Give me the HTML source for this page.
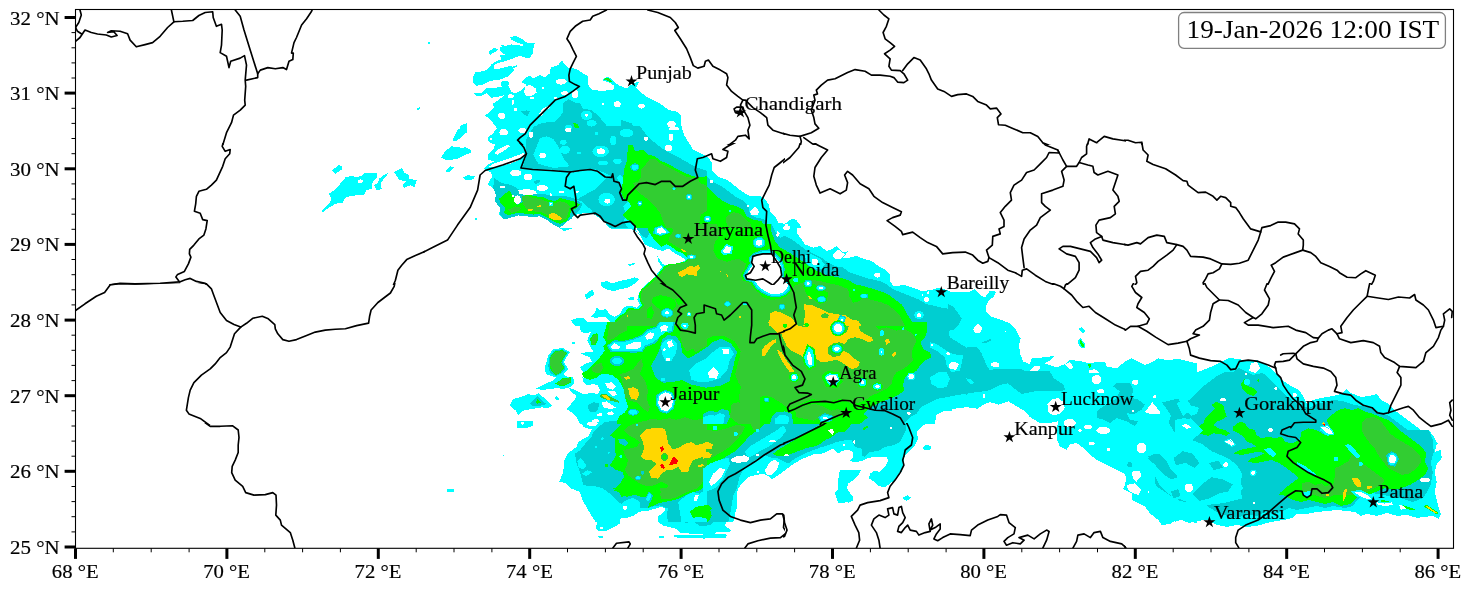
<!DOCTYPE html><html><head><meta charset="utf-8"><title>Radar map</title><style>html,body{margin:0;padding:0;background:#fff;width:1471px;height:591px;overflow:hidden}</style></head><body><svg width="1471" height="591" viewBox="0 0 1471 591" style="position:absolute;left:0;top:0">
<defs><clipPath id="c60_0"><rect x="-1" y="-1" width="426" height="146"/></clipPath><clipPath id="c60_140"><rect x="-1" y="143" width="426" height="142"/></clipPath><clipPath id="c60_280"><rect x="-1" y="283" width="426" height="142"/></clipPath><clipPath id="c60_420"><rect x="-1" y="423" width="426" height="178"/></clipPath><clipPath id="c420_0"><rect x="423" y="-1" width="362" height="146"/></clipPath><clipPath id="c420_140"><rect x="423" y="143" width="362" height="142"/></clipPath><clipPath id="c420_280"><rect x="423" y="283" width="362" height="142"/></clipPath><clipPath id="c420_420"><rect x="423" y="423" width="362" height="178"/></clipPath><clipPath id="c780_0"><rect x="783" y="-1" width="343" height="146"/></clipPath><clipPath id="c780_140"><rect x="783" y="143" width="343" height="142"/></clipPath><clipPath id="c780_280"><rect x="783" y="283" width="343" height="142"/></clipPath><clipPath id="c780_420"><rect x="783" y="423" width="343" height="178"/></clipPath><clipPath id="c1103_0"><rect x="1124" y="-1" width="348" height="146"/></clipPath><clipPath id="c1103_140"><rect x="1124" y="143" width="348" height="142"/></clipPath><clipPath id="c1103_280"><rect x="1124" y="283" width="348" height="146"/></clipPath><clipPath id="c1103_420"><rect x="1124" y="426" width="348" height="175"/></clipPath></defs>
<defs><clipPath id="ax"><rect x="75.5" y="9.5" width="1378.0" height="538.8"/></clipPath></defs>
<g clip-path="url(#ax)" shape-rendering="crispEdges"><polygon fill="#00ffff" points="510.0,36.7 516.6,36.3 522.5,39.2 526.6,42.5 535.0,43.0 533.3,46.7 532.0,50.8 533.3,53.3 529.1,58.3 525.0,57.5 524.1,55.0 517.5,56.6 511.6,59.1 503.3,61.6 497.5,63.3 493.3,65.8 495.8,71.6 493.3,75.0 486.6,76.6 481.7,79.1 480.8,85.0 476.7,85.8 473.3,82.5 472.5,78.3 475.0,72.5 485.0,70.8 489.1,67.5 491.6,64.1 495.8,61.6 501.6,59.1 500.0,56.6 497.5,55.8 503.3,55.0 510.0,53.3 513.3,50.8 508.3,50.0 503.3,47.5 500.8,45.0 506.6,45.8 515.0,47.5 520.8,46.7 524.1,45.0 517.5,42.5 511.6,40.0"/><polygon fill="#00ffff" points="488.3,51.7 495.0,47.5 498.3,50.0 494.1,52.5 490.0,55.0"/><polygon fill="#00ffff" points="503.0,70.0 510.0,67.5 517.5,65.0 516.6,67.0 510.0,69.6 503.6,71.6"/><polygon fill="#00ffff" points="460.0,125.8 466.7,123.3 466.7,127.9 460.0,127.9"/><polygon fill="#00ffff" points="473.3,93.3 481.7,93.0 487.5,87.5 493.3,88.3 501.6,86.6 500.8,81.6 508.3,80.8 509.1,84.1 505.8,87.5 508.3,90.8 515.0,93.3 521.6,90.0 526.6,85.0 521.6,82.5 525.8,77.5 530.0,75.8 533.3,78.3 539.9,75.0 544.9,77.5 549.9,73.3 550.8,67.5 558.3,65.0 561.9,60.0 563.3,63.3 568.3,67.5 576.6,69.1 583.3,73.6 587.9,75.8 588.2,85.0 592.4,90.0 601.6,90.8 613.2,90.0 614.1,85.8 610.7,83.3 606.6,81.6 601.6,80.0 608.2,76.6 612.4,80.0 615.7,83.3 619.9,85.8 626.6,88.3 633.2,83.3 639.0,81.6 636.5,87.5 640.7,92.5 646.5,96.6 653.2,100.0 662.4,105.0 668.2,109.9 676.5,111.6 680.7,114.9 681.5,119.9 679.9,129.9 498.3,129.9 493.3,123.3 489.1,118.3 484.7,115.8 490.0,111.6 494.1,107.4 492.5,104.1 498.3,100.0 504.1,95.8 500.0,92.5 493.3,94.1 486.6,93.3 481.7,95.8 476.7,96.6"/><polygon fill="#00ffff" points="498.3,126.3 493.3,133.0 487.5,138.0 489.1,142.2 495.0,144.7 493.3,149.7 487.5,154.6 488.3,159.6 494.1,161.3 486.6,165.5 483.3,168.8 490.8,172.1 492.5,176.3 490.0,179.6 487.5,184.6 493.3,188.0 495.8,194.6 495.0,201.3 500.0,207.9 499.1,214.6 504.1,219.6 510.0,217.9 515.0,215.4 520.0,214.6 526.6,215.4 533.3,216.3 539.9,216.3 546.6,218.8 553.3,223.8 559.9,227.9 706.5,227.9 706.5,156.3 699.8,153.0 693.2,149.7 689.0,143.0 684.0,134.7 681.5,126.3"/><polygon fill="#00ffff" points="460.0,128.0 466.7,128.0 467.5,132.2 463.3,134.7 460.0,135.5"/><polygon fill="#00ffff" points="460.0,148.8 465.0,147.2 470.0,149.7 469.2,153.0 463.3,153.3 460.0,152.2"/><polygon fill="#00ffff" points="463.3,177.1 468.3,175.1 474.7,176.3 474.2,179.3 468.3,180.0 464.2,179.3"/><polygon fill="#00ffff" points="475.0,218.4 476.7,218.4 476.7,220.1 475.0,220.1"/><polygon fill="#00ffff" points="441.3,157.5 445.0,151.3 451.3,146.3 460.1,147.5 470.1,148.8 471.3,152.5 465.1,155.0 457.5,158.8 447.5,160.5"/><polygon fill="#00ffff" points="445.0,171.3 450.0,166.3 453.8,167.5 448.8,172.5"/><polygon fill="#00ffff" points="463.8,177.5 468.8,175.0 473.8,177.0 470.1,180.1 465.1,180.1"/><polygon fill="#00ffff" points="452.5,140.2 457.5,130.2 466.3,123.2 467.1,130.2 461.3,137.7 455.0,141.4"/><polygon fill="#00ffff" points="427.5,42.1 430.0,42.1 430.0,44.1 427.5,44.1"/><polygon fill="#00ffff" points="321.6,211.3 329.1,203.8 331.6,198.8 329.1,193.8 334.1,190.1 339.1,185.1 345.4,177.5 351.6,175.8 356.6,177.5 362.9,175.0 364.1,172.5 376.6,172.5 376.6,177.5 372.9,181.3 371.6,188.8 366.6,190.1 364.1,195.1 352.9,195.6 345.4,197.6 342.9,202.6 335.3,203.8 329.1,207.6 322.8,212.1"/><polygon fill="#00ffff" points="331.6,170.5 339.1,165.0 342.4,166.3 341.6,169.5 335.3,173.8"/><polygon fill="#00ffff" points="374.1,185.1 377.9,182.6 379.1,178.8 385.4,173.8 388.4,173.3 382.9,180.1 380.4,183.8 381.7,188.8 376.6,190.6"/><polygon fill="#00ffff" points="394.2,172.0 401.7,168.0 404.2,172.5 409.2,175.0 409.2,178.8 416.7,180.1 414.2,187.6 410.4,185.1 404.2,188.1 402.9,185.1 406.7,181.3 399.2,180.1"/><polygon fill="#00ffff" points="416.7,108.9 419.7,107.1 419.7,109.1 417.4,110.1"/><polygon fill="#00ffff" points="556.6,225.2 573.3,225.2 571.6,228.5 564.1,231.0 559.9,228.5"/><polygon fill="#00ffff" points="628.2,264.6 634.9,262.6 635.7,264.0 629.9,266.0"/><polygon fill="#00ffff" points="600.7,282.6 606.6,281.0 611.6,283.5 619.9,281.0 628.2,279.3 634.9,277.3 639.9,279.0 634.9,283.5 628.2,287.6 619.9,289.3 613.2,291.3 606.6,289.3 601.6,286.8"/><polygon fill="#00ffff" points="584.9,295.1 589.1,291.0 593.2,290.1 594.1,294.3 589.9,297.6 586.6,299.0"/><polygon fill="#00ffff" points="627.4,298.0 633.2,296.8 634.9,299.3 630.7,300.6"/><polygon fill="#00ffff" points="570.8,320.1 576.6,318.4 583.3,317.6 586.6,320.9 588.2,325.9 574.9,325.9"/><polygon fill="#00ffff" points="609.1,224.3 633.2,224.3 636.5,231.0 641.5,237.7 644.9,244.3 649.9,246.8 656.5,249.3 662.4,251.0 668.2,248.5 674.9,253.5 681.5,256.8 685.7,260.1 674.9,265.1 666.5,266.0 662.4,263.5 659.0,258.5 657.4,256.0 658.2,261.8 662.4,266.8 658.2,272.6 653.2,278.5 648.2,282.6 643.2,287.6 639.0,292.6 637.4,299.3 639.9,304.3 636.5,307.6 631.6,305.9 626.6,305.6 622.4,309.3 619.9,314.3 614.9,316.8 609.9,314.3 605.7,309.3 599.9,310.1 596.6,307.6 594.9,312.6 589.9,317.3 596.6,317.6 604.9,316.8 609.9,320.9 610.7,325.9 706.5,325.9 706.5,224.3 643.2,224.3 639.9,234.3 634.9,230.2 626.6,228.5 616.6,229.3 610.7,228.5"/><polygon fill="#00ffff" points="544.9,367.3 548.3,355.6 553.3,349.0 563.3,348.2 569.9,352.3 566.6,357.3 564.1,362.3 568.3,369.0 563.3,374.0 566.6,376.5 573.3,377.3 574.1,383.1 569.9,387.3 563.3,389.0 556.6,388.1 549.9,389.0 543.3,389.8 535.0,389.0 539.9,386.5 546.6,383.1 553.3,380.6 555.8,377.3 549.9,375.6 545.8,374.0"/><polygon fill="#00ffff" points="579.1,322.3 607.4,322.3 604.9,330.7 603.2,337.3 606.6,342.3 603.2,346.5 604.9,350.6 601.6,354.8 598.2,359.8 593.2,364.8 588.2,369.8 583.3,372.3 579.9,367.3 584.9,364.0 591.6,361.5 589.9,357.3 583.3,354.8 579.9,353.1 586.6,352.3 593.2,351.5 589.9,345.7 587.4,340.7 589.1,335.7 591.6,331.5 586.6,333.2 581.6,332.3 579.9,329.0"/><polygon fill="#00ffff" points="510.0,404.8 513.3,399.0 520.0,397.3 528.3,394.0 535.0,395.6 538.3,393.1 543.3,397.3 548.3,402.3 552.4,405.6 548.3,408.1 541.6,407.3 533.3,408.9 526.6,409.8 521.6,411.4 518.3,415.6 515.8,410.6 511.6,407.3"/><polygon fill="#00ffff" points="554.1,398.1 556.6,396.0 559.6,398.6 556.9,400.9"/><polygon fill="#00ffff" points="571.9,342.0 574.6,342.0 574.6,344.3 571.9,344.3"/><polygon fill="#00ffff" points="568.3,387.3 576.6,390.6 583.3,394.0 591.6,393.1 598.2,394.0 599.9,390.6 598.2,385.6 593.2,384.0 586.6,385.6 583.3,382.3 582.4,377.3 589.9,379.8 596.6,377.6 601.6,374.0 606.6,374.0 613.2,375.6 618.2,379.8 621.6,384.8 624.1,390.6 624.9,397.3 626.6,402.3 628.2,407.3 624.9,412.3 619.9,415.6 617.4,419.8 616.6,423.9 579.9,423.9 576.6,417.3 571.6,412.3 566.6,408.9 569.9,405.6 574.9,399.0 576.6,395.6 571.6,392.3"/><polygon fill="#00ffff" points="579.9,420.3 583.3,427.0 591.6,429.5 588.2,436.2 583.3,438.7 578.3,442.0 576.6,447.0 568.3,452.8 564.1,461.1 563.3,472.0 559.1,482.0 564.9,482.8 571.6,488.6 579.9,492.0 582.4,500.3 588.2,508.6 593.2,515.3 594.9,521.9 706.5,521.9 706.5,420.3"/><polygon fill="#00ffff" points="516.6,421.2 533.3,421.2 532.5,426.2 526.6,427.8 516.6,428.3"/><polygon fill="#00ffff" points="503.0,454.6 504.3,454.6 504.3,456.0 503.0,456.0"/><polygon fill="#00ffff" points="574.9,488.3 581.6,493.3 583.3,501.7 588.2,510.0 593.2,518.3 597.4,523.3 595.7,527.5 598.2,530.8 604.9,531.3 609.9,529.1 614.9,526.6 619.9,523.3 620.7,517.5 624.9,518.3 633.2,515.8 639.9,511.7 648.2,510.8 656.5,508.3 661.5,506.7 665.7,509.2 662.4,513.3 657.4,516.6 658.2,521.6 663.2,525.8 671.5,527.5 676.5,529.1 679.9,532.5 689.8,533.6 706.5,533.6 706.5,488.3"/><polygon fill="#00ffff" points="673.2,535.0 684.9,534.6 706.5,535.0 706.5,538.3 681.5,538.3 674.9,537.0"/><polygon fill="#00ffff" points="597.4,535.8 603.2,535.8 602.4,538.0 599.1,538.0"/><polygon fill="#00ffff" points="659.0,535.8 664.0,535.8 664.0,537.5 659.0,537.5"/><polygon fill="#00ffff" points="703.3,154.6 707.5,157.1 711.7,162.1 712.5,171.3 718.3,177.1 726.7,179.6 733.3,184.6 741.6,191.3 750.0,196.3 760.0,195.5 765.0,199.6 769.1,204.6 770.0,211.3 775.0,216.3 778.3,222.9 784.9,223.8 791.6,218.8 795.8,219.6 800.8,225.9 801.6,227.9 703.3,227.9"/><polygon fill="#00ffff" points="797.4,224.3 796.6,232.7 801.6,239.3 804.9,244.3 813.3,247.7 819.9,246.0 826.6,251.0 831.6,249.3 836.6,246.0 843.2,252.6 848.2,251.0 843.2,257.6 849.9,257.6 856.6,256.0 864.9,259.3 871.6,261.0 878.2,266.0 884.9,269.3 889.9,274.3 889.9,281.0 893.2,286.0 904.9,285.1 914.9,288.5 921.5,291.0 931.5,290.1 938.2,287.6 950.0,291.0 951.5,325.9 703.3,325.9 703.3,224.3"/><polygon fill="#00ffff" points="703.3,322.3 951.5,322.3 951.5,410.6 943.2,411.4 936.5,414.8 934.8,423.9 703.3,423.9"/><polygon fill="#00ffff" points="703.3,420.3 931.5,420.3 923.2,425.3 916.5,432.0 918.2,438.7 914.9,445.3 909.9,450.3 904.9,455.3 903.2,463.6 901.5,472.0 896.5,478.6 889.9,483.6 884.9,487.0 878.2,486.1 874.9,482.0 869.1,478.6 869.9,473.6 874.9,470.3 879.9,472.0 884.9,467.0 888.2,460.3 886.5,457.0 874.9,457.0 868.2,457.8 861.6,461.1 854.9,462.0 849.9,461.1 853.2,457.0 853.2,452.0 848.2,449.5 841.6,451.1 838.2,453.6 833.2,448.6 828.3,451.1 821.6,453.6 813.3,454.5 804.9,457.8 798.3,461.1 791.6,465.3 784.9,470.3 778.3,475.3 771.6,479.5 770.0,477.0 763.3,473.6 755.0,475.3 748.3,477.0 741.6,483.6 738.3,488.6 735.8,495.3 736.6,505.3 735.0,515.3 733.3,521.9 703.3,521.9"/><polygon fill="#00ffff" points="839.9,470.3 848.2,469.5 861.6,469.5 858.2,475.3 853.2,480.3 848.2,483.6 846.6,488.6 851.6,495.3 853.2,500.3 848.2,502.8 843.2,500.3 838.2,501.9 834.9,493.6 838.2,488.6 838.2,480.3 839.1,473.6"/><polygon fill="#00ffff" points="922.4,447.8 926.5,444.5 931.5,447.0 929.9,450.3 924.9,450.3"/><polygon fill="#00ffff" points="903.2,498.6 907.4,495.3 910.7,497.8 906.5,501.1"/><polygon fill="#00ffff" points="703.3,488.3 737.5,488.3 736.6,496.7 737.5,505.0 735.8,511.7 733.3,518.3 726.7,520.0 725.0,525.8 730.8,530.0 730.0,532.0 716.7,531.6 715.0,533.6 726.7,534.6 726.3,537.5 710.0,538.3 703.3,538.6"/><polygon fill="#00ffff" points="834.9,492.5 838.2,489.2 848.2,489.2 849.1,493.3 853.2,496.7 851.6,500.8 844.9,502.5 838.2,502.5 836.6,498.3"/><polygon fill="#00ffff" points="903.2,497.5 907.4,495.0 910.7,497.5 906.5,500.3"/><polygon fill="#00ffff" points="948.3,292.5 958.3,291.7 968.3,292.5 975.0,289.2 980.0,295.0 985.0,297.5 990.0,290.8 995.8,291.7 994.1,296.7 989.1,300.0 985.8,305.8 985.8,311.6 991.6,316.6 1001.6,320.0 1010.0,323.3 1015.0,328.3 1018.3,335.0 1020.8,338.3 1019.1,345.0 1020.0,353.3 1023.3,361.6 1029.9,364.1 1031.6,358.3 1043.3,357.4 1054.9,355.8 1049.9,360.8 1044.9,363.3 1056.6,367.4 1064.9,364.1 1069.9,359.9 1083.2,361.6 1088.2,363.3 1094.9,362.4 1104.9,361.6 1106.6,366.6 1116.6,368.3 1124.9,361.6 1131.5,358.3 1138.2,361.6 1144.9,364.9 1149.9,363.3 1158.2,358.3 1166.5,359.9 1179.8,359.1 1189.8,361.6 1196.5,363.3 1196.5,374.9 948.3,374.9"/><polygon fill="#00ffff" points="1079.1,328.3 1081.6,327.0 1085.2,330.8 1083.2,333.0 1079.9,330.8"/><polygon fill="#00ffff" points="1077.9,340.0 1080.7,338.0 1083.2,341.6 1085.7,345.0 1084.1,348.6 1080.7,347.5 1078.2,343.6"/><polygon fill="#00ffff" points="948.3,371.3 1196.5,371.3 1196.5,472.9 1123.2,472.9 1116.6,469.6 1109.9,466.3 1103.2,462.9 1096.6,459.6 1089.9,454.6 1083.2,448.0 1076.6,443.0 1069.9,444.6 1066.6,449.6 1059.9,446.3 1056.6,439.6 1056.6,429.6 1058.3,421.3 1049.9,423.0 1039.9,423.0 1029.9,417.1 1025.0,411.3 1016.6,406.3 1008.3,401.3 998.3,404.6 990.0,402.1 983.3,404.6 977.5,408.8 966.7,407.1 960.0,408.0 948.3,409.6"/><polygon fill="#00ffff" points="1099.9,458.3 1106.6,465.0 1116.6,467.5 1123.2,471.7 1126.5,478.3 1124.9,485.0 1123.2,489.1 1131.5,493.3 1131.5,500.0 1138.2,503.3 1144.9,506.6 1149.9,513.3 1158.2,520.0 1161.5,525.0 1169.9,524.1 1176.5,520.0 1179.8,515.0 1186.5,520.0 1196.5,523.3 1196.5,458.3"/><polygon fill="#00ffff" points="1175.0,359.0 1183.0,360.0 1189.0,362.0 1193.0,368.0 1197.0,372.0 1203.0,370.0 1213.0,366.0 1221.0,362.0 1229.0,358.0 1239.0,359.0 1247.0,361.0 1257.0,360.0 1264.9,364.0 1272.9,370.0 1278.9,376.0 1284.9,382.0 1290.9,386.0 1298.9,390.0 1302.9,396.0 1306.9,404.0 1312.9,400.0 1320.9,398.0 1332.9,396.0 1340.9,394.0 1346.9,389.0 1350.9,393.0 1360.9,397.0 1368.9,396.0 1376.9,394.0 1380.9,400.0 1388.9,404.0 1396.9,411.9 1404.9,417.9 1412.9,423.9 1420.9,429.9 1428.8,435.9 1436.8,441.9 1438.8,443.9 1175.0,443.9"/><polygon fill="#00ffff" points="1175.0,430.0 1428.8,430.0 1434.8,438.0 1436.8,444.0 1434.8,452.0 1440.8,450.0 1441.8,458.0 1436.8,464.0 1434.8,472.0 1436.8,482.0 1434.8,492.0 1436.8,500.0 1438.8,508.0 1440.8,514.0 1438.8,518.9 1432.8,515.9 1424.9,516.9 1416.9,517.9 1406.9,515.0 1396.9,515.9 1386.9,513.0 1376.9,515.9 1366.9,514.0 1360.9,515.9 1354.9,512.0 1346.9,511.0 1336.9,510.0 1326.9,511.0 1316.9,512.0 1306.9,514.0 1296.9,514.0 1292.9,517.9 1284.9,519.9 1276.9,520.9 1266.9,522.9 1257.0,525.9 1247.0,526.9 1237.0,524.9 1227.0,526.9 1217.0,524.9 1207.0,519.9 1197.0,520.9 1189.0,522.9 1181.0,519.9 1175.0,521.9"/><polygon fill="#00ffff" points="447.0,489.0 454.0,489.0 454.0,491.5 447.0,491.5"/><polygon fill="#00ffff" points="499.8,47.4 511.4,44.4 523.6,45.9 534.2,42.8 532.7,53.5 526.6,58.1 517.5,55.0 508.3,56.6 500.7,52.0"/><polygon fill="#00ffff" points="474.2,74.8 485.5,70.3 499.2,68.7 511.4,65.7 514.4,70.3 508.3,76.4 500.7,79.4 490.1,80.9 480.9,85.5 474.8,82.4"/><polygon fill="#00ffff" points="485.5,91.6 496.1,88.5 508.3,85.5 511.4,91.6 502.2,96.1 491.6,97.7"/><polygon fill="#00ced1" points="563.3,103.3 568.3,99.1 574.9,102.5 579.9,103.3 583.3,109.1 591.6,109.9 598.2,115.8 604.9,123.3 609.1,129.9 534.1,129.9 538.3,124.1 546.6,122.4 554.9,121.6 559.9,116.6 563.3,111.6"/><polygon fill="#00ced1" points="520.8,111.6 526.6,110.3 530.0,111.6 527.5,115.8 524.1,114.9"/><polygon fill="#00ced1" points="620.7,119.9 626.6,121.6 631.6,123.3 636.5,129.9 620.7,129.9"/><polygon fill="#00ced1" points="534.1,126.3 639.9,126.3 644.9,133.0 653.2,141.3 661.5,148.0 669.9,153.0 679.9,158.0 689.8,163.8 698.2,168.0 706.5,170.5 706.5,179.6 626.6,179.6 619.9,174.6 616.6,178.0 609.9,175.5 604.9,173.0 596.6,169.6 588.2,168.8 579.9,171.3 573.3,172.6 566.6,171.6 553.3,169.6 538.3,168.8 521.6,168.8 525.0,161.3 526.6,154.6 525.8,144.7 526.6,138.0"/><polygon fill="#00ced1" points="609.9,175.5 616.6,178.0 619.9,183.0 620.7,191.3 624.1,199.6 628.2,201.3 623.2,206.3 624.9,211.3 626.6,216.3 623.2,221.3 628.2,227.9 609.9,227.9 604.9,222.1 599.9,217.9 593.2,213.8 591.6,209.6 586.6,206.3 581.6,201.3 576.6,199.6 582.4,196.3 588.2,193.0 594.9,189.6 601.6,183.0 606.6,178.0"/><polygon fill="#00ced1" points="494.1,178.0 501.6,183.0 510.0,184.6 516.6,188.0 523.3,192.1 530.0,193.0 538.3,193.8 546.6,194.6 553.3,196.3 558.3,195.5 566.6,196.3 574.9,198.8 582.4,203.8 579.9,209.6 574.9,214.6 571.6,219.6 566.6,224.6 559.9,227.9 553.3,224.6 546.6,219.6 539.9,216.3 533.3,217.1 526.6,216.3 518.3,215.4 510.0,217.9 504.1,219.6 500.0,214.6 500.0,207.9 495.0,201.3 495.8,194.6 493.3,188.0"/><polygon fill="#00ced1" points="533.3,182.1 538.3,179.6 540.8,181.3 535.8,184.6"/><polygon fill="#00ced1" points="563.3,225.2 569.9,225.2 568.3,228.0 564.1,228.5"/><polygon fill="#00ced1" points="634.9,224.3 648.2,224.3 649.9,232.7 646.5,238.5 642.4,236.0 638.2,231.0"/><polygon fill="#00ced1" points="548.3,365.6 549.6,356.5 554.1,350.6 562.4,349.3 567.9,352.6 564.9,357.3 562.4,362.3 565.8,368.1 561.6,373.1 556.6,376.0 551.6,374.0 549.1,370.6"/><polygon fill="#00ced1" points="530.0,403.9 534.1,399.0 537.4,395.6 541.6,400.6 546.6,403.9 539.9,405.9 533.3,406.4"/><polygon fill="#00ced1" points="587.4,405.6 593.2,402.3 599.1,403.1 598.2,408.9 594.9,412.3 589.1,411.4"/><polygon fill="#00ced1" points="598.2,427.0 604.9,422.0 619.9,420.3 706.5,420.3 706.5,521.9 668.2,521.9 666.5,515.3 668.2,508.6 659.9,505.3 649.9,506.9 639.9,508.6 639.9,501.9 634.9,498.6 628.2,497.8 621.6,503.6 616.6,500.3 609.9,493.6 603.2,488.6 594.9,486.1 583.3,485.3 581.6,478.6 579.9,472.0 576.6,463.6 574.9,453.6 579.9,450.3 586.6,442.0 591.6,437.0 593.2,432.0"/><polygon fill="#00ced1" points="603.2,488.3 609.9,493.3 616.6,498.3 619.9,503.3 626.6,500.0 633.2,497.5 639.9,501.7 639.9,508.3 648.2,508.3 654.9,505.8 659.9,505.0 668.2,508.3 667.4,515.0 669.9,519.1 676.5,520.0 681.5,516.6 683.2,523.3 693.2,521.6 699.8,525.8 706.5,525.8 706.5,488.3"/><polygon fill="#00ced1" points="703.3,173.0 708.3,178.0 715.0,183.0 721.7,186.3 728.3,191.3 735.0,196.3 741.6,199.6 748.3,206.3 750.0,214.6 756.6,217.9 763.3,218.8 766.6,221.3 766.6,227.9 703.3,227.9"/><polygon fill="#00ced1" points="771.6,224.3 775.0,231.0 780.0,237.7 784.9,236.0 791.6,239.3 798.3,244.3 804.9,249.3 813.3,253.5 821.6,257.6 828.3,262.6 834.9,266.0 843.2,267.6 849.9,272.6 858.2,275.1 864.9,277.6 871.6,279.3 879.9,281.0 886.5,284.3 893.2,289.3 901.5,292.6 909.9,296.0 918.2,299.3 926.5,304.3 934.8,305.9 941.5,307.6 951.5,309.3 951.5,325.9 703.3,325.9 703.3,224.3"/><polygon fill="#00ced1" points="927.4,322.3 946.6,322.3 949.9,337.3 963.2,345.7 974.9,352.3 984.9,362.3 989.9,370.6 1003.2,369.0 1021.5,369.0 1036.5,377.3 1063.2,385.6 1063.2,390.6 1038.2,390.6 1021.5,394.0 1006.5,382.3 988.2,390.6 963.2,394.0 936.6,399.0 920.8,407.3 916.6,413.9 909.9,417.3 903.3,423.9 846.7,423.9 846.7,374.0 880.0,324.0"/><polygon fill="#00ced1" points="703.3,420.3 904.9,420.3 906.5,428.7 903.2,435.3 899.9,442.0 893.2,445.3 884.9,447.0 878.2,451.1 869.9,452.0 864.9,457.0 861.6,455.3 861.6,448.6 854.9,447.0 851.6,440.3 844.9,440.3 836.6,442.0 828.3,445.3 821.6,447.0 814.9,449.5 808.3,452.0 801.6,455.3 794.9,458.6 788.3,463.6 784.9,462.0 778.3,458.6 771.6,457.8 765.0,455.3 758.3,457.8 753.3,461.1 748.3,465.3 743.3,470.3 740.0,475.3 738.3,482.0 736.6,488.6 733.3,495.3 731.6,505.3 730.0,515.3 728.3,521.9 703.3,521.9"/><polygon fill="#00ced1" points="703.3,488.3 730.0,488.3 729.2,496.7 730.0,505.0 726.7,511.7 721.7,516.6 715.0,520.0 710.0,525.0 703.3,525.8"/><polygon fill="#00ced1" points="948.3,304.1 953.3,306.6 958.3,313.3 961.7,318.3 958.3,325.0 953.3,330.0 948.3,330.8"/><polygon fill="#00ced1" points="948.3,341.6 956.7,346.6 963.3,350.0 968.3,346.6 976.6,346.6 981.6,353.3 985.0,361.6 981.6,368.3 986.6,369.9 1000.0,369.1 1013.3,369.9 1021.6,370.8 1023.3,374.9 948.3,374.9"/><polygon fill="#00ced1" points="981.6,342.5 990.0,339.1 992.5,340.0 985.8,343.3"/><polygon fill="#00ced1" points="948.3,376.3 966.7,373.0 991.6,371.3 1049.9,371.3 1053.3,378.0 1063.3,384.7 1064.9,389.7 1058.3,391.3 1049.9,388.0 1043.3,384.7 1036.6,383.0 1029.9,386.3 1023.3,389.7 1016.6,388.0 1010.0,383.0 1000.0,384.7 991.6,383.0 983.3,389.7 975.0,388.0 966.7,394.7 960.0,391.3 953.3,388.0 948.3,389.7"/><polygon fill="#00ced1" points="1096.6,411.3 1103.2,406.3 1109.9,403.0 1116.6,398.0 1119.9,391.3 1113.2,386.3 1116.6,383.0 1129.9,383.0 1133.2,389.7 1131.5,398.0 1138.2,399.6 1144.9,404.6 1141.5,409.6 1133.2,414.6 1126.5,413.0 1129.9,419.6 1138.2,421.3 1134.9,426.3 1126.5,421.3 1116.6,418.0 1109.9,423.0 1103.2,419.6 1096.6,418.0"/><polygon fill="#00ced1" points="1164.9,423.0 1173.2,416.3 1183.2,411.3 1189.8,406.3 1196.5,403.0 1196.5,443.0 1189.8,439.6 1183.2,436.3 1176.5,438.0 1171.5,431.3 1166.5,429.6"/><polygon fill="#00ced1" points="1148.2,456.3 1158.2,452.9 1166.5,456.3 1174.9,454.6 1183.2,451.3 1196.5,448.0 1196.5,472.9 1158.2,472.9 1154.9,464.6"/><polygon fill="#00ced1" points="1148.2,458.3 1154.9,465.0 1161.5,471.7 1166.5,478.3 1173.2,476.7 1179.8,481.7 1186.5,476.7 1189.8,470.0 1196.5,466.7 1196.5,458.3"/><polygon fill="#00ced1" points="1158.2,460.0 1166.5,458.3 1196.5,458.3 1196.5,501.6 1186.5,498.3 1179.8,493.3 1171.5,490.0 1164.9,481.7 1159.9,473.3"/><polygon fill="#00ced1" points="1159.9,485.0 1163.2,481.7 1164.0,488.3 1160.7,488.3"/><polygon fill="#00ced1" points="1172.4,493.3 1178.2,488.3 1182.3,494.1 1178.2,499.1"/><polygon fill="#00ced1" points="1191.5,495.0 1196.5,491.6 1196.5,501.6"/><polygon fill="#00ced1" points="1175.0,407.9 1181.0,404.0 1189.0,400.0 1195.0,394.0 1201.0,388.0 1209.0,382.0 1217.0,376.0 1225.0,372.0 1233.0,372.0 1239.0,368.0 1245.0,371.0 1253.0,375.0 1262.9,373.0 1268.9,378.0 1274.9,384.0 1280.9,390.0 1286.9,396.0 1292.9,401.0 1300.9,406.0 1308.9,407.9 1316.9,404.0 1324.9,402.0 1332.9,400.0 1342.9,401.0 1350.9,404.0 1360.9,406.0 1370.9,407.9 1378.9,411.9 1388.9,415.9 1396.9,421.9 1404.9,427.9 1412.9,433.9 1420.9,439.9 1424.9,443.9 1175.0,443.9"/><polygon fill="#00ced1" points="1175.0,444.0 1185.0,440.0 1197.0,438.0 1207.0,434.0 1217.0,430.0 1428.8,430.0 1432.8,440.0 1433.8,452.0 1430.8,462.0 1432.8,472.0 1430.8,484.0 1426.9,492.0 1422.9,498.0 1412.9,502.0 1400.9,498.0 1388.9,496.0 1376.9,494.0 1368.9,492.0 1356.9,500.0 1352.9,506.0 1344.9,508.0 1332.9,506.0 1324.9,508.0 1316.9,506.0 1306.9,508.0 1296.9,510.0 1288.9,508.0 1280.9,512.0 1272.9,514.0 1264.9,512.0 1257.0,515.9 1247.0,514.0 1237.0,517.9 1227.0,515.9 1217.0,512.0 1207.0,506.0 1201.0,500.0 1193.0,498.0 1185.0,502.0 1177.0,500.0 1175.0,500.0"/><polygon fill="#00ced1" points="1160.7,403.4 1178.2,398.4 1188.2,415.9 1185.7,440.9 1170.7,445.9 1160.7,425.9"/><polygon fill="#00ced1" points="1153.2,460.9 1170.7,453.4 1185.7,460.9 1188.2,485.9 1170.7,495.9 1155.7,485.9"/><polygon fill="#00ff00" points="573.3,123.3 577.4,123.6 579.9,128.3 574.9,128.3"/><polygon fill="#00ff00" points="602.4,79.1 608.2,77.5 612.4,81.6 609.9,82.5 606.6,80.0"/><polygon fill="#00ff00" points="628.2,144.7 633.2,145.5 634.9,151.3 643.2,149.7 648.2,154.6 654.9,156.3 659.9,160.5 668.2,163.8 676.5,168.8 684.9,173.0 693.2,176.3 699.8,177.1 706.5,176.3 706.5,227.9 636.5,227.9 631.6,222.9 626.6,218.8 622.4,214.6 626.6,211.3 631.6,206.3 628.2,201.3 624.1,199.6 620.7,191.3 622.4,184.6 623.2,178.0 624.1,169.6 626.6,161.3 627.4,153.0"/><polygon fill="#00ff00" points="499.1,198.8 505.0,193.8 510.0,190.5 511.6,194.6 515.0,198.0 517.5,204.6 523.3,202.1 521.6,196.3 528.3,194.6 535.0,196.3 543.3,197.1 548.3,199.6 554.9,201.3 559.9,198.0 566.6,199.6 573.3,201.3 579.9,204.6 576.6,207.9 570.8,211.3 569.9,216.3 566.6,221.3 559.9,223.8 553.3,221.3 546.6,217.1 539.9,213.8 533.3,214.6 526.6,213.8 520.0,212.9 513.3,213.8 508.3,215.4 504.1,212.9 505.0,207.9 500.8,203.8"/><polygon fill="#00ff00" points="646.5,224.3 648.2,231.0 651.5,236.0 654.9,241.0 658.2,243.5 661.5,246.8 666.5,244.3 671.5,246.8 676.5,251.0 683.2,253.5 688.2,258.5 684.9,261.8 676.5,263.5 668.2,264.3 664.0,266.8 659.9,271.8 656.5,276.0 651.5,280.1 646.5,285.1 641.5,289.3 639.0,294.3 639.9,301.0 642.4,305.1 638.2,309.3 633.2,308.4 628.2,307.6 624.9,312.6 619.9,315.9 615.7,319.3 613.2,325.9 706.5,325.9 706.5,224.3"/><polygon fill="#00ff00" points="549.6,364.8 550.3,357.0 554.6,351.6 561.9,350.1 566.9,353.0 564.1,357.3 561.1,362.3 564.4,367.6 560.6,372.6 556.1,375.3 552.1,371.5 549.9,368.1"/><polygon fill="#00ff00" points="555.3,383.6 562.9,378.1 570.6,377.3 571.6,382.0 565.3,385.6 559.6,385.6"/><polygon fill="#00ff00" points="589.9,339.0 593.2,334.0 597.4,333.2 598.2,339.0 595.7,344.8 591.6,345.7"/><polygon fill="#00ff00" points="535.8,401.4 537.9,399.0 541.6,403.1 536.6,403.6"/><polygon fill="#00ff00" points="607.4,322.3 604.9,330.7 603.2,337.3 606.6,342.3 603.2,346.5 604.9,350.6 601.6,354.8 598.2,359.8 593.2,364.8 588.2,369.8 581.6,373.1 583.3,377.3 589.9,379.8 596.6,377.6 601.6,374.0 606.6,374.0 613.2,375.6 618.2,379.8 621.6,384.8 624.1,390.6 624.9,397.3 626.6,402.3 628.2,407.3 624.9,412.3 619.9,415.6 617.4,419.8 616.6,423.9 706.5,423.9 706.5,322.3"/><polygon fill="#00ff00" points="609.9,435.3 614.9,430.3 619.9,425.3 626.6,420.3 706.5,420.3 706.5,485.3 699.8,490.3 691.5,492.8 681.5,496.1 674.9,500.3 668.2,500.3 659.9,499.4 653.2,505.3 648.2,507.8 649.9,500.3 643.2,495.3 636.5,493.6 629.9,493.6 621.6,497.0 618.2,491.1 613.2,491.1 619.9,483.6 624.1,477.0 622.4,472.0 614.9,469.5 609.9,465.3 613.2,460.3 615.7,455.3 614.9,447.0 614.9,438.7"/><polygon fill="#00ff00" points="604.9,464.0 607.9,464.0 607.9,467.0 604.9,467.0"/><polygon fill="#00ff00" points="613.2,488.3 619.9,493.3 626.6,496.7 634.9,495.0 643.2,497.5 648.2,495.0 649.9,501.7 653.2,505.8 658.2,503.3 666.5,501.7 674.9,500.0 681.5,497.5 689.8,493.3 696.5,488.3"/><polygon fill="#00ff00" points="703.3,183.0 710.0,189.6 716.7,196.3 723.3,201.3 730.0,204.6 736.6,206.3 743.3,209.6 746.6,216.3 753.3,219.6 761.6,221.3 765.0,227.9 703.3,227.9"/><polygon fill="#00ff00" points="770.8,224.3 771.6,232.7 775.0,241.0 780.0,247.7 786.6,251.0 793.3,255.1 799.9,259.3 806.6,264.3 813.3,269.3 821.6,272.6 828.3,276.0 836.6,276.8 843.2,278.5 849.9,281.0 854.9,284.3 863.2,286.0 871.6,288.5 879.9,291.0 888.2,294.3 894.9,299.3 901.5,304.3 904.9,309.3 908.2,315.9 911.5,320.9 914.9,325.9 703.3,325.9 703.3,224.3"/><polygon fill="#00ff00" points="703.3,322.3 926.5,322.3 927.4,330.7 924.9,337.3 920.7,342.3 923.2,349.0 929.9,352.3 931.5,357.3 924.9,360.6 919.9,365.6 916.5,370.6 911.5,374.0 904.9,377.3 903.2,384.0 904.0,390.6 899.9,394.0 893.2,397.3 884.9,400.6 876.6,403.9 868.2,408.9 863.2,413.9 868.2,417.3 859.9,423.9 703.3,423.9"/><polygon fill="#00ff00" points="703.3,420.3 768.3,420.3 761.6,427.0 755.0,432.0 748.3,437.0 743.3,443.7 736.6,450.3 728.3,455.3 720.0,460.3 711.7,465.3 703.3,468.6"/><polygon fill="#00ff00" points="773.3,453.6 780.0,448.6 788.3,443.7 796.6,438.7 804.9,433.7 813.3,428.7 821.6,423.7 824.9,420.3 851.6,420.3 849.9,427.0 844.9,432.0 838.2,432.0 831.6,437.0 824.9,440.3 818.3,445.3 811.6,447.0 804.9,448.6 798.3,451.1 791.6,453.6 783.3,456.1 776.6,456.1"/><polygon fill="#00ff00" points="862.4,428.7 867.4,425.3 868.2,427.0 864.1,430.3"/><polygon fill="#00ff00" points="703.3,505.3 710.0,508.6 711.7,515.3 708.3,521.9 703.3,521.9"/><polygon fill="#00ff00" points="703.3,503.3 708.3,505.0 712.5,508.3 708.3,512.5 703.3,513.3"/><polygon fill="#00ff00" points="1079.9,339.1 1081.6,341.6 1084.1,345.0 1083.2,347.5 1080.7,345.0"/><polygon fill="#00ff00" points="1087.9,364.9 1089.9,363.6 1091.6,365.8 1089.6,367.9"/><polygon fill="#00ff00" points="1241.0,384.0 1245.0,378.0 1247.0,386.0 1253.0,388.0 1257.0,392.0 1253.0,396.0 1247.0,394.0 1243.0,390.0"/><polygon fill="#00ff00" points="1257.0,381.0 1259.4,378.0 1259.0,383.0"/><polygon fill="#00ff00" points="1195.0,428.3 1203.3,423.3 1205.0,418.3 1210.0,413.3 1215.0,408.3 1211.6,405.0 1216.6,401.7 1223.3,405.0 1225.0,411.7 1226.6,416.7 1221.6,420.0 1216.6,421.6 1213.3,425.0 1218.3,428.3 1225.0,430.0 1230.0,433.3 1226.6,435.8 1220.0,434.1 1213.3,433.3 1208.3,435.8 1201.7,434.1 1196.7,432.5"/><polygon fill="#00ff00" points="1233.3,426.6 1240.0,421.6 1245.0,423.3 1248.3,428.3 1255.0,430.0 1256.6,435.0 1261.6,438.3 1268.3,436.6 1274.9,438.3 1281.6,436.6 1284.9,441.6 1291.6,443.3 1299.9,440.0 1301.6,431.6 1308.3,428.3 1316.6,430.0 1324.9,435.0 1331.6,433.3 1329.9,426.6 1326.6,420.0 1331.6,415.0 1338.2,410.0 1344.9,408.3 1351.6,410.0 1358.2,408.3 1364.9,411.7 1371.5,413.3 1379.9,416.7 1388.2,420.0 1394.9,425.0 1401.5,431.6 1408.2,436.6 1414.8,441.6 1421.5,446.6 1426.5,453.3 1424.8,461.6 1428.2,468.3 1424.8,474.9 1418.2,479.9 1409.9,484.9 1401.5,488.3 1393.2,489.9 1384.9,488.3 1376.5,491.6 1368.2,494.9 1278.3,494.9 1284.9,488.3 1291.6,483.3 1298.3,478.3 1293.3,473.3 1286.6,468.3 1279.9,463.3 1271.6,460.0 1263.3,461.6 1255.0,463.3 1248.3,461.6 1251.6,458.3 1258.3,456.6 1264.9,453.3 1258.3,451.6 1250.0,453.3 1241.6,455.0 1233.3,453.3 1240.0,450.0 1248.3,448.3 1256.6,446.6 1251.6,443.3 1246.6,441.6 1243.3,436.6 1238.3,433.3 1233.3,430.8"/><polygon fill="#00ff00" points="1278.9,492.0 1284.9,496.0 1292.9,500.0 1300.9,502.0 1308.9,500.0 1316.9,502.0 1324.9,504.0 1332.9,502.0 1340.9,506.0 1350.9,504.0 1356.9,498.0 1352.9,492.0 1316.9,488.0"/><polygon fill="#32cd32" points="604.6,79.5 608.2,78.6 610.7,81.3 607.4,80.5"/><polygon fill="#32cd32" points="644.9,165.5 649.9,158.8 656.5,159.6 659.9,163.0 668.2,167.1 676.5,171.3 684.9,176.3 693.2,178.0 697.3,177.1 699.8,183.0 706.5,185.5 706.5,211.3 700.7,214.6 699.8,221.3 696.5,227.9 666.5,227.9 663.2,221.3 659.9,212.9 654.9,206.3 648.2,199.6 641.5,194.6 636.5,189.6 633.2,183.0 638.2,181.3 641.5,176.3 640.7,169.6"/><polygon fill="#32cd32" points="521.6,196.3 526.6,195.5 533.3,198.0 539.9,198.8 546.6,201.3 553.3,203.8 559.9,201.3 566.6,203.0 569.9,206.3 568.3,212.9 566.6,217.9 561.6,221.3 554.9,219.6 548.3,215.4 541.6,212.1 533.3,211.3 526.6,209.6 523.3,204.6"/><polygon fill="#32cd32" points="508.3,209.6 515.0,206.3 521.6,207.9 518.3,211.3 511.6,212.9"/><polygon fill="#32cd32" points="670.7,224.3 673.2,231.0 669.9,236.0 668.2,241.0 673.2,244.3 678.2,247.7 684.9,251.0 689.8,257.6 686.5,261.8 678.2,264.0 669.9,265.1 665.7,267.6 661.5,272.6 658.2,276.8 653.2,281.0 648.2,286.0 643.2,290.1 640.7,295.1 641.5,301.0 644.0,305.1 639.9,310.1 634.9,310.1 629.9,309.3 626.6,313.4 621.6,316.8 617.4,320.9 615.7,325.9 706.5,325.9 706.5,224.3"/><polygon fill="#32cd32" points="550.8,357.3 554.9,352.3 561.6,350.6 566.6,353.1 563.3,357.3 559.9,362.3 563.3,367.3 559.9,372.3 555.8,374.8 552.4,370.6 549.9,364.0"/><polygon fill="#32cd32" points="556.6,383.1 563.3,379.0 569.9,378.1 570.8,381.5 564.9,384.8 559.9,384.8"/><polygon fill="#32cd32" points="591.2,339.0 594.1,335.3 596.6,334.8 596.9,339.0 594.9,343.7 592.4,344.3"/><polygon fill="#32cd32" points="591.6,368.1 596.6,364.0 601.6,363.1 603.2,368.1 599.9,373.1 593.2,372.3"/><polygon fill="#32cd32" points="609.9,322.3 628.2,322.3 626.6,330.7 619.9,334.0 613.2,339.0 606.6,340.7 608.2,332.3"/><polygon fill="#32cd32" points="619.9,374.0 626.6,372.3 633.2,369.0 638.2,362.3 641.5,359.0 643.2,365.6 639.9,374.0 644.9,380.6 648.2,390.6 646.5,399.0 649.9,407.3 648.2,412.3 641.5,407.3 636.5,402.3 629.9,400.6 624.9,397.3 624.1,390.6 622.4,382.3"/><polygon fill="#32cd32" points="693.2,334.0 698.2,329.0 706.5,327.3 706.5,354.0 698.2,354.8 693.2,349.0 689.8,340.7"/><polygon fill="#32cd32" points="643.2,423.9 649.9,418.9 659.9,419.8 669.9,418.1 676.5,419.8 684.9,417.3 693.2,419.8 706.5,418.9 706.5,423.9"/><polygon fill="#32cd32" points="599.1,394.8 604.9,393.6 611.6,397.3 618.2,400.6 619.9,403.1 613.2,401.4 606.6,399.8 601.6,398.1"/><polygon fill="#32cd32" points="624.1,430.3 629.9,425.3 639.9,422.0 648.2,420.3 706.5,420.3 706.5,477.0 701.5,483.6 696.5,488.6 689.8,491.1 679.9,495.3 669.9,499.4 661.5,498.6 659.9,493.6 666.5,488.6 668.2,485.3 661.5,482.0 654.9,485.3 646.5,486.1 639.9,483.6 634.9,480.3 628.2,475.3 624.9,470.3 626.6,465.3 628.2,460.3 624.9,455.3 623.2,450.3 629.9,448.6 636.5,447.0 639.9,442.0 634.9,438.7 628.2,435.3"/><polygon fill="#32cd32" points="659.9,488.3 661.5,495.0 668.2,498.3 676.5,497.5 684.9,493.3 689.8,488.3"/><polygon fill="#32cd32" points="726.7,216.3 733.3,212.1 740.0,213.8 745.0,218.8 750.0,222.9 751.6,227.9 728.3,227.9 725.8,221.3"/><polygon fill="#32cd32" points="703.3,224.3 716.7,224.3 720.8,234.3 715.0,241.8 713.3,251.0 717.5,258.5 726.7,261.8 738.3,258.5 745.8,263.5 744.1,274.3 752.5,281.8 755.8,290.1 762.5,296.8 771.6,300.1 781.6,298.5 789.9,293.5 794.1,286.0 799.9,283.5 804.9,281.8 813.3,280.1 821.6,281.3 829.9,283.5 838.2,285.1 846.6,288.5 854.9,293.5 863.2,296.8 871.6,300.1 879.9,301.8 888.2,305.1 894.9,310.1 899.9,315.9 903.2,321.8 904.9,325.9 703.3,325.9"/><polygon fill="#32cd32" points="740.0,322.3 871.6,322.3 878.2,329.0 886.5,327.3 896.5,330.7 904.9,329.0 913.2,334.0 916.5,340.7 913.2,347.3 911.5,354.0 913.2,360.6 908.2,365.6 903.2,369.0 896.5,372.3 893.2,377.3 891.5,384.0 886.5,389.0 879.9,392.3 871.6,395.6 864.9,400.6 854.9,403.9 848.2,402.3 841.6,399.0 831.6,400.6 821.6,400.6 811.6,399.0 804.9,402.3 798.3,405.6 791.6,408.9 786.6,407.3 780.0,402.3 771.6,397.3 763.3,395.6 756.6,399.0 750.0,395.6 743.3,390.6 738.3,382.3 735.0,374.0 736.6,365.6 740.0,357.3 738.3,349.0 735.0,340.7 736.6,332.3"/><polygon fill="#32cd32" points="794.9,408.9 804.9,405.6 814.9,403.9 824.9,407.3 831.6,410.6 838.2,408.9 843.2,412.3 838.2,417.3 831.6,418.9 821.6,417.3 813.3,420.6 804.9,418.9 796.6,417.3"/><polygon fill="#32cd32" points="731.6,403.9 738.3,402.3 746.6,407.3 755.0,410.6 760.0,417.3 755.0,423.9 738.3,423.9 730.0,417.3"/><polygon fill="#32cd32" points="703.3,428.7 715.0,431.2 725.0,428.7 738.3,424.5 745.0,427.0 741.6,433.7 736.6,440.3 730.0,447.0 721.7,452.0 713.3,457.0 705.0,462.0 703.3,462.8"/><polygon fill="#32cd32" points="1361.5,423.3 1366.5,418.3 1373.2,416.7 1379.9,420.0 1384.9,426.6 1389.9,433.3 1396.5,438.3 1404.9,443.3 1413.2,448.3 1419.8,455.0 1421.5,461.6 1416.5,468.3 1409.9,473.3 1401.5,474.9 1394.9,471.6 1388.2,468.3 1383.2,461.6 1378.2,455.0 1374.9,448.3 1369.9,443.3 1364.9,436.6 1361.5,430.0"/><polygon fill="#32cd32" points="1334.9,468.3 1341.6,465.0 1348.2,461.6 1351.6,455.0 1358.2,458.3 1364.9,465.0 1371.5,470.0 1378.2,474.9 1384.9,479.9 1381.5,484.9 1374.9,488.3 1368.2,491.6 1361.5,494.9 1304.9,494.9 1301.6,488.3 1301.6,483.3 1308.3,481.6 1314.9,484.9 1321.6,483.3 1328.2,488.3 1333.2,484.9 1334.9,476.6"/><polygon fill="#32cd32" points="1310.9,492.0 1316.9,488.0 1324.9,486.0 1334.9,484.4 1336.9,490.0 1332.9,496.0 1324.9,498.0 1316.9,496.0"/><polygon fill="#32cd32" points="641.8,290.0 760.0,290.0 760.0,429.7 753.1,429.7 748.4,417.9 741.3,408.4 738.9,396.6 741.3,384.7 738.9,372.9 741.3,361.0 740.1,349.2 734.2,340.9 724.7,336.2 712.9,336.2 703.4,340.9 693.9,348.0 686.8,351.6 682.1,344.5 679.7,335.0 682.1,325.5 676.2,316.0 667.9,306.6 658.4,304.2 648.9,301.8 644.2,297.1"/><polygon fill="#ffd700" points="548.3,214.6 553.3,212.6 558.3,215.4 562.4,218.8 559.9,220.4 553.3,219.6 549.1,217.9"/><polygon fill="#ffd700" points="528.3,209.3 532.5,208.8 532.5,210.4 528.3,210.9"/><polygon fill="#ffd700" points="537.4,205.6 541.3,205.3 541.3,206.6 537.4,206.9"/><polygon fill="#ffd700" points="678.2,272.6 683.2,270.1 689.8,266.0 694.8,266.8 699.0,264.3 699.8,268.5 696.5,271.8 697.3,276.0 691.5,275.1 686.5,274.3 682.4,276.8 679.0,276.0"/><polygon fill="#ffd700" points="681.2,249.3 684.0,249.7 686.2,251.8 683.2,251.8"/><polygon fill="#ffd700" points="626.6,315.3 628.2,315.3 628.2,316.9 626.6,316.9"/><polygon fill="#ffd700" points="628.2,388.1 633.2,387.3 638.2,389.8 639.0,395.6 636.5,399.8 631.6,399.0 629.1,394.0"/><polygon fill="#ffd700" points="624.1,377.3 628.2,376.0 630.7,378.1 626.6,379.8"/><polygon fill="#ffd700" points="601.6,395.3 606.6,394.8 610.7,399.0 609.1,400.6 604.9,398.1"/><polygon fill="#ffd700" points="639.9,435.3 646.5,429.5 654.9,427.8 664.9,428.7 666.5,435.3 668.2,443.7 673.2,449.5 679.9,447.0 684.9,443.7 691.5,442.0 696.5,445.3 705.0,442.8 706.5,455.3 699.8,457.8 693.2,460.3 689.8,466.1 688.2,472.0 681.5,472.0 678.2,467.0 673.2,469.5 666.5,470.3 661.5,473.6 658.2,478.6 651.5,477.8 649.0,472.0 653.2,467.0 656.5,463.6 651.5,460.3 644.9,459.5 640.7,457.0 643.2,452.0 644.0,447.0 642.4,440.3"/><polygon fill="#ffd700" points="697.3,465.6 703.2,464.0 704.0,466.1 698.2,467.3"/><polygon fill="#ffd700" points="770.0,313.4 775.0,310.9 781.6,312.6 788.3,315.9 793.3,319.3 795.8,325.9 769.1,325.9"/><polygon fill="#ffd700" points="804.1,304.3 811.6,305.1 821.6,309.3 828.3,312.6 836.6,314.3 844.9,315.1 851.6,319.3 858.2,320.9 861.6,325.9 803.3,325.9 804.9,315.9"/><polygon fill="#ffd700" points="718.0,270.6 721.7,270.6 721.3,272.3"/><polygon fill="#ffd700" points="726.3,274.3 728.3,275.6 727.7,277.3"/><polygon fill="#ffd700" points="739.1,315.9 741.3,315.9 741.3,317.6 739.1,317.6"/><polygon fill="#ffd700" points="807.9,296.0 811.6,296.8 812.4,299.3 809.1,298.5"/><polygon fill="#ffd700" points="768.3,322.3 794.9,322.3 798.3,325.7 804.9,327.3 811.6,324.0 821.6,322.3 829.9,322.3 831.6,332.3 838.2,335.7 846.6,332.3 849.9,324.0 858.2,322.3 859.9,330.7 864.9,334.0 871.6,337.3 873.2,340.7 868.2,342.3 861.6,339.0 854.9,337.3 848.2,339.0 844.9,344.0 839.9,342.3 833.2,343.2 828.3,347.3 828.3,354.0 833.2,357.3 839.9,355.6 843.2,350.6 849.9,354.0 854.9,359.0 859.9,362.3 858.2,367.3 851.6,369.0 846.6,365.6 841.6,362.3 836.6,359.8 828.3,361.5 821.6,362.3 816.6,359.0 814.9,352.3 813.3,347.3 808.3,345.7 804.9,350.6 803.3,357.3 798.3,354.0 791.6,350.6 786.6,345.7 783.3,339.0 781.6,334.0 776.6,332.3 771.6,327.3"/><polygon fill="#ffd700" points="761.6,350.6 765.0,345.7 771.6,340.7 776.6,339.0 775.8,342.3 771.6,345.7 768.3,350.6 765.0,355.6 761.6,355.6"/><polygon fill="#ffd700" points="776.6,349.0 781.6,352.3 786.6,360.6 791.6,367.3 794.9,372.3 789.9,372.3 784.9,365.6 780.0,357.3"/><polygon fill="#ffd700" points="884.9,340.7 888.2,338.2 889.9,342.3 886.5,344.8"/><polygon fill="#ffd700" points="891.2,354.8 894.9,351.5 896.5,354.0 893.2,356.8"/><polygon fill="#ffd700" points="703.3,442.8 708.3,442.0 713.3,444.5 711.7,448.6 706.7,449.5 703.3,448.6"/><polygon fill="#ffd700" points="703.3,452.8 708.3,452.0 711.7,454.5 710.0,457.8 703.3,458.6"/><polygon fill="#ffd700" points="1321.9,422.9 1323.9,421.9 1326.5,426.9 1324.5,428.3"/><polygon fill="#ffd700" points="1351.9,479.0 1356.9,477.6 1360.9,482.0 1361.3,487.0 1356.9,486.0 1353.9,482.0"/><polygon fill="#ffd700" points="1366.9,486.4 1371.9,486.0 1371.3,488.4 1367.3,488.8"/><polygon fill="#ffd700" points="1343.9,490.0 1346.9,489.0 1345.9,496.0 1343.3,501.0 1342.5,496.0"/><polygon fill="#ffd700" points="1325.9,494.0 1328.9,493.6 1328.5,496.0 1325.9,496.4"/><polygon fill="#ffd700" points="1352.4,478.3 1357.4,477.4 1359.9,481.6 1361.5,485.8 1358.2,487.4 1354.1,483.3"/><polygon fill="#ff0000" points="660.4,447.0 662.4,446.2 664.0,449.5 660.7,452.8"/><polygon fill="#ff0000" points="669.0,464.5 672.4,457.8 674.9,457.0 678.5,461.1 676.5,463.6 671.5,465.0"/><polygon fill="#ff0000" points="660.4,465.3 662.4,463.6 664.9,467.3 663.5,469.0 661.2,467.8"/><polygon fill="#ff0000" points="1323.1,423.9 1324.1,423.5 1325.3,426.3 1324.5,426.7"/><ellipse fill="#ffffff" cx="561.3" cy="81.6" rx="5.3" ry="3.0"/><ellipse fill="#ffffff" cx="564.9" cy="93.3" rx="3.7" ry="2.0"/><ellipse fill="#ffffff" cx="574.9" cy="94.1" rx="3.3" ry="4.2"/><ellipse fill="#ffffff" cx="510.8" cy="96.3" rx="3.0" ry="2.0"/><ellipse fill="#ffffff" cx="513.0" cy="102.5" rx="1.3" ry="2.3"/><ellipse fill="#ffffff" cx="532.0" cy="98.3" rx="2.0" ry="1.3"/><ellipse fill="#ffffff" cx="501.6" cy="115.8" rx="3.3" ry="3.3"/><ellipse fill="#ffffff" cx="515.8" cy="109.6" rx="1.7" ry="1.7"/><ellipse fill="#ffffff" cx="555.8" cy="98.3" rx="2.0" ry="1.3"/><ellipse fill="#ffffff" cx="617.4" cy="104.1" rx="3.3" ry="3.0"/><ellipse fill="#ffffff" cx="641.5" cy="106.3" rx="3.3" ry="2.3"/><ellipse fill="#ffffff" cx="602.7" cy="104.1" rx="1.3" ry="1.3"/><ellipse fill="#ffffff" cx="671.5" cy="124.1" rx="4.2" ry="3.3"/><ellipse fill="#ffffff" cx="543.3" cy="88.0" rx="1.0" ry="1.0"/><polygon fill="#ffffff" points="525.0,86.6 530.0,85.0 535.8,88.3 536.6,92.5 531.6,95.8 526.6,96.6 524.1,92.5"/><polygon fill="#ffffff" points="539.1,113.3 543.3,108.3 548.3,105.8 549.9,107.4 544.9,111.6 541.6,115.8"/><ellipse fill="#00ffff" cx="586.6" cy="115.3" rx="5.8" ry="4.7"/><ellipse fill="#ffffff" cx="586.6" cy="115.3" rx="1.7" ry="1.4"/><ellipse fill="#00ffff" cx="591.6" cy="123.3" rx="5.0" ry="3.3"/><ellipse fill="#00ffff" cx="568.3" cy="127.4" rx="3.7" ry="2.3"/><polygon fill="#ffffff" points="559.9,227.9 566.6,222.1 571.3,218.8 574.9,214.9 579.9,213.8 586.6,212.9 593.2,213.8 599.1,217.9 604.9,222.6 609.1,227.9"/><ellipse fill="#ffffff" cx="503.6" cy="132.2" rx="4.2" ry="3.3"/><ellipse fill="#ffffff" cx="522.5" cy="130.5" rx="4.2" ry="2.5"/><ellipse fill="#ffffff" cx="530.8" cy="134.7" rx="2.3" ry="3.0"/><ellipse fill="#ffffff" cx="490.8" cy="139.3" rx="1.3" ry="1.3"/><ellipse fill="#ffffff" cx="515.8" cy="173.0" rx="5.8" ry="3.3"/><ellipse fill="#ffffff" cx="528.3" cy="177.1" rx="4.2" ry="3.3"/><ellipse fill="#ffffff" cx="542.4" cy="188.0" rx="5.8" ry="3.0"/><ellipse fill="#ffffff" cx="502.5" cy="187.1" rx="2.5" ry="1.3"/><ellipse fill="#ffffff" cx="517.5" cy="199.6" rx="3.3" ry="4.2"/><ellipse fill="#ffffff" cx="561.6" cy="192.1" rx="3.3" ry="0.8"/><ellipse fill="#ffffff" cx="550.8" cy="194.6" rx="1.3" ry="1.3"/><ellipse fill="#ffffff" cx="513.3" cy="196.0" rx="1.0" ry="1.3"/><ellipse fill="#ffffff" cx="542.8" cy="155.5" rx="3.3" ry="3.0"/><ellipse fill="#ffffff" cx="568.3" cy="130.0" rx="3.0" ry="2.3"/><ellipse fill="#ffffff" cx="600.7" cy="150.5" rx="4.2" ry="3.3"/><ellipse fill="#ffffff" cx="668.5" cy="148.0" rx="3.7" ry="3.0"/><ellipse fill="#ffffff" cx="671.2" cy="137.2" rx="2.3" ry="3.7"/><ellipse fill="#ffffff" cx="646.0" cy="138.8" rx="2.0" ry="2.0"/><ellipse fill="#ffffff" cx="674.0" cy="128.8" rx="5.0" ry="1.7"/><ellipse fill="#ffffff" cx="607.4" cy="201.3" rx="3.0" ry="2.3"/><ellipse fill="#ffffff" cx="577.4" cy="191.8" rx="1.3" ry="1.3"/><polygon fill="#ffffff" points="494.1,153.0 499.1,148.8 507.5,144.7 510.0,146.3 503.3,151.3 497.5,154.6"/><polygon fill="#ffffff" points="487.5,167.6 493.3,163.8 503.3,160.5 515.0,156.3 523.3,153.0 525.8,154.6 518.3,160.5 510.0,163.8 500.0,166.3"/><polygon fill="#ffffff" points="518.3,190.5 526.6,188.8 535.8,191.0 536.6,193.8 528.3,195.5 519.1,193.8"/><polygon fill="#00ffff" points="539.9,138.0 546.6,136.3 553.3,138.8 558.3,146.3 563.3,158.0 569.9,166.3 553.3,168.0 538.3,163.8 533.3,154.6 537.4,144.7"/><ellipse fill="#ffffff" cx="542.8" cy="155.5" rx="3.3" ry="3.0"/><ellipse fill="#00ffff" cx="564.9" cy="149.7" rx="5.0" ry="4.2"/><ellipse fill="#00ffff" cx="563.3" cy="142.2" rx="3.3" ry="2.5"/><ellipse fill="#00ffff" cx="579.1" cy="153.0" rx="2.0" ry="1.3"/><ellipse fill="#00ffff" cx="603.2" cy="163.0" rx="5.0" ry="2.0"/><ellipse fill="#00ffff" cx="617.4" cy="161.3" rx="4.2" ry="2.5"/><ellipse fill="#00ffff" cx="600.7" cy="151.3" rx="8.3" ry="5.8"/><ellipse fill="#ffffff" cx="600.7" cy="151.3" rx="4.2" ry="2.9"/><ellipse fill="#00ffff" cx="613.2" cy="140.5" rx="3.3" ry="5.0"/><ellipse fill="#00ffff" cx="626.6" cy="133.0" rx="6.7" ry="4.2"/><ellipse fill="#00ffff" cx="596.6" cy="133.8" rx="1.7" ry="1.7"/><ellipse fill="#00ffff" cx="606.6" cy="199.6" rx="8.3" ry="6.7"/><ellipse fill="#ffffff" cx="607.4" cy="201.3" rx="3.0" ry="2.3"/><ellipse fill="#00ffff" cx="550.8" cy="203.8" rx="2.3" ry="2.3"/><ellipse fill="#ffffff" cx="550.8" cy="203.8" rx="0.9" ry="0.9"/><ellipse fill="#00ced1" cx="634.9" cy="167.1" rx="4.7" ry="3.7"/><ellipse fill="#00ffff" cx="634.9" cy="167.1" rx="3.3" ry="2.6"/><ellipse fill="#00ced1" cx="689.0" cy="197.1" rx="3.0" ry="3.0"/><ellipse fill="#00ffff" cx="689.0" cy="197.1" rx="2.1" ry="2.1"/><ellipse fill="#ffffff" cx="689.0" cy="197.1" rx="1.0" ry="1.0"/><ellipse fill="#00ced1" cx="639.9" cy="203.4" rx="2.5" ry="2.5"/><ellipse fill="#00ffff" cx="639.9" cy="203.4" rx="1.7" ry="1.7"/><ellipse fill="#ffffff" cx="639.9" cy="203.4" rx="0.7" ry="0.7"/><ellipse fill="#00ced1" cx="674.0" cy="188.8" rx="1.7" ry="1.7"/><ellipse fill="#00ffff" cx="674.0" cy="188.8" rx="1.0" ry="1.0"/><ellipse fill="#ffffff" cx="360.4" cy="181.3" rx="2.5" ry="2.0"/><polygon fill="#00ff00" points="653.2,297.6 659.9,295.1 668.2,296.8 674.9,300.1 676.5,305.9 671.5,310.9 664.9,312.6 659.9,309.3 654.9,305.9 651.5,301.8"/><polygon fill="#00ff00" points="646.5,309.3 651.5,305.9 654.0,312.6 651.5,319.3 647.4,317.6"/><polygon fill="#00ff00" points="674.9,299.3 681.5,297.6 684.0,302.6 678.2,305.1"/><ellipse fill="#00ced1" cx="667.0" cy="312.9" rx="6.3" ry="4.7"/><ellipse fill="#00ffff" cx="667.0" cy="312.9" rx="5.1" ry="3.7"/><ellipse fill="#ffffff" cx="667.0" cy="312.9" rx="2.2" ry="1.6"/><ellipse fill="#00ced1" cx="691.5" cy="256.8" rx="4.7" ry="2.3"/><ellipse fill="#00ffff" cx="691.5" cy="256.8" rx="3.7" ry="1.9"/><ellipse fill="#ffffff" cx="691.5" cy="256.8" rx="2.1" ry="1.0"/><ellipse fill="#00ced1" cx="678.2" cy="236.0" rx="2.8" ry="2.5"/><ellipse fill="#00ffff" cx="678.2" cy="236.0" rx="2.0" ry="1.7"/><polygon fill="#00ced1" points="654.0,227.7 661.5,225.2 670.7,232.7 659.9,236.0 653.2,233.5"/><polygon fill="#00ffff" points="655.2,228.0 661.5,226.0 669.5,232.7 659.9,235.2 654.5,233.2"/><polygon fill="#ffffff" points="657.0,229.0 661.5,227.3 667.4,232.3 659.9,233.8 656.5,232.3"/><ellipse fill="#00ffff" cx="689.0" cy="314.3" rx="2.3" ry="2.0"/><ellipse fill="#ffffff" cx="689.0" cy="314.3" rx="1.2" ry="1.0"/><polygon fill="#ffffff" points="604.9,383.1 611.6,382.3 615.7,386.5 613.2,389.8 607.4,388.1"/><polygon fill="#ffffff" points="608.2,391.5 614.1,390.6 617.4,394.8 612.4,396.5"/><polygon fill="#ffffff" points="601.6,402.3 606.6,401.4 613.2,405.6 616.6,408.1 609.9,408.9 603.2,407.3"/><polygon fill="#ffffff" points="606.6,413.1 611.6,411.4 614.9,413.9 609.9,415.6"/><polygon fill="#ffffff" points="586.6,387.3 596.6,386.5 598.2,390.6 591.6,392.3 587.4,390.6"/><polygon fill="#ffffff" points="596.6,413.9 601.6,413.1 601.6,415.6 597.4,415.9"/><polygon fill="#ffffff" points="591.6,419.8 598.2,418.9 599.1,421.9 592.4,421.9"/><polygon fill="#00ced1" points="606.6,345.7 614.1,340.2 623.2,341.0 633.2,338.5 642.4,334.3 647.4,329.3 655.7,326.8 659.0,322.3 674.9,322.3 673.2,331.5 664.0,335.3 659.5,339.3 654.5,343.7 645.7,347.0 642.4,352.0 633.2,352.8 624.9,352.0 618.2,352.0 610.7,352.0"/><polygon fill="#00ffff" points="608.2,345.7 614.9,341.5 623.2,342.3 633.2,339.8 643.2,335.7 648.2,330.7 656.5,328.2 659.9,322.3 673.2,322.3 671.5,330.7 663.2,334.0 658.2,338.2 653.2,342.3 644.9,345.7 641.5,350.6 633.2,351.5 624.9,350.6 618.2,350.6 611.6,350.6"/><polygon fill="#ffffff" points="610.7,346.5 614.9,343.2 619.9,346.5 619.1,349.0 612.4,349.0"/><polygon fill="#ffffff" points="625.7,345.7 633.2,342.3 640.7,341.5 641.5,346.5 636.5,349.0 626.6,349.0"/><polygon fill="#ffffff" points="644.9,336.5 649.9,332.3 654.0,333.2 653.2,338.2 647.4,339.8"/><polygon fill="#ffffff" points="659.9,327.3 664.0,324.8 668.2,326.5 666.5,330.7 661.5,331.5"/><ellipse fill="#00ced1" cx="616.9" cy="361.0" rx="7.5" ry="5.0"/><ellipse fill="#00ffff" cx="616.9" cy="361.0" rx="4.9" ry="3.2"/><ellipse fill="#00ffff" cx="684.9" cy="325.7" rx="3.7" ry="3.0"/><ellipse fill="#ffffff" cx="684.9" cy="325.7" rx="1.5" ry="1.2"/><polygon fill="#00ced1" points="656.5,394.8 664.9,389.8 672.4,392.3 675.7,400.6 673.7,408.6 667.0,413.9 660.4,411.9 655.9,404.8"/><polygon fill="#00ffff" points="657.7,395.3 664.9,391.0 671.5,393.1 674.5,400.6 672.7,407.9 666.7,412.8 660.9,410.9 657.0,404.4"/><polygon fill="#ffffff" points="659.0,396.0 664.9,392.3 670.7,394.0 673.2,400.6 671.5,407.3 666.5,411.4 661.5,409.8 658.2,403.9"/><ellipse fill="#00ced1" cx="633.2" cy="412.3" rx="5.7" ry="3.3"/><ellipse fill="#00ffff" cx="633.2" cy="412.3" rx="4.0" ry="2.3"/><ellipse fill="#ffffff" cx="522.5" cy="423.3" rx="2.0" ry="1.3"/><ellipse fill="#ffffff" cx="592.4" cy="423.7" rx="5.3" ry="2.2"/><ellipse fill="#ffffff" cx="624.9" cy="507.8" rx="2.5" ry="2.0"/><polygon fill="#ffffff" points="619.9,523.6 620.7,517.4 624.9,518.3 633.2,515.8 639.9,511.6 648.2,510.8 656.5,508.3 661.5,506.6 665.7,509.1 662.4,513.3 657.4,516.6 658.2,521.9 658.2,523.6"/><polygon fill="#00ffff" points="577.4,461.1 580.8,457.8 586.6,465.3 583.3,469.5 578.6,467.8"/><polygon fill="#00ffff" points="581.6,473.6 587.4,470.3 592.4,472.0 586.6,476.1"/><ellipse fill="#00ffff" cx="602.4" cy="438.7" rx="1.3" ry="1.3"/><ellipse fill="#00ffff" cx="596.2" cy="447.3" rx="1.0" ry="1.3"/><ellipse fill="#00ffff" cx="608.7" cy="452.8" rx="1.0" ry="1.0"/><ellipse fill="#32cd32" cx="664.5" cy="457.0" rx="3.7" ry="3.7"/><ellipse fill="#00ff00" cx="664.5" cy="457.0" rx="2.0" ry="2.0"/><polygon fill="#00ced1" points="618.2,438.7 624.1,438.7 628.2,442.8 624.9,446.2 619.9,443.7"/><ellipse fill="#00ffff" cx="637.0" cy="425.0" rx="1.5" ry="1.5"/><ellipse fill="#00ced1" cx="638.2" cy="477.8" rx="3.0" ry="2.3"/><ellipse fill="#00ffff" cx="638.2" cy="477.8" rx="2.1" ry="1.6"/><ellipse fill="#00ced1" cx="642.4" cy="472.8" rx="1.7" ry="2.0"/><ellipse fill="#00ffff" cx="620.7" cy="456.5" rx="1.2" ry="1.5"/><polygon fill="#00ced1" points="644.0,500.3 649.0,491.1 653.2,495.3 649.9,503.6"/><polygon fill="#00ffff" points="645.7,499.4 649.0,492.8 651.5,495.3 649.0,501.9"/><polygon fill="#00ffff" points="678.2,501.9 686.5,495.3 693.2,492.0 699.8,493.6 706.5,488.6 706.5,521.9 681.5,521.9 679.9,511.9"/><polygon fill="#ffffff" points="693.2,500.3 695.7,494.5 699.0,495.3 696.5,501.1"/><polygon fill="#00ff00" points="689.8,511.9 696.5,506.9 706.5,505.3 706.5,518.6 699.8,516.9 693.2,517.8"/><ellipse fill="#ffffff" cx="625.2" cy="507.5" rx="2.3" ry="2.0"/><ellipse fill="#ffffff" cx="601.6" cy="528.3" rx="2.0" ry="1.0"/><polygon fill="#00ffff" points="681.5,505.0 688.2,501.7 691.5,506.7 688.2,513.3 684.9,523.3 681.5,521.6 679.9,513.3"/><polygon fill="#00ff00" points="689.8,511.7 696.5,506.7 706.5,505.0 706.5,518.3 699.8,516.6 693.2,517.5"/><polygon fill="#00ced1" points="644.0,500.3 649.0,491.2 653.2,495.3 649.9,503.7"/><polygon fill="#00ffff" points="645.7,499.2 649.0,492.5 651.5,495.0 649.0,501.7"/><ellipse fill="#ffffff" cx="711.3" cy="181.3" rx="1.7" ry="1.7"/><ellipse fill="#ffffff" cx="748.3" cy="205.8" rx="1.3" ry="1.3"/><ellipse fill="#ffffff" cx="786.6" cy="224.9" rx="1.7" ry="1.3"/><polygon fill="#ffffff" points="750.0,212.1 755.0,206.3 759.1,211.3 757.5,215.4 751.6,215.4"/><ellipse fill="#00ced1" cx="707.5" cy="218.8" rx="3.7" ry="3.3"/><ellipse fill="#00ffff" cx="707.5" cy="218.8" rx="2.9" ry="2.7"/><ellipse fill="#ffffff" cx="707.5" cy="218.8" rx="1.5" ry="1.3"/><ellipse fill="#00ffff" cx="730.0" cy="210.8" rx="1.2" ry="1.2"/><polygon fill="#ffffff" points="832.4,255.1 838.2,249.3 844.9,254.3 840.7,259.3 835.7,259.3"/><ellipse fill="#ffffff" cx="877.4" cy="275.1" rx="3.0" ry="2.5"/><ellipse fill="#ffffff" cx="926.5" cy="299.3" rx="2.5" ry="2.5"/><ellipse fill="#ffffff" cx="928.2" cy="292.6" rx="1.3" ry="1.3"/><ellipse fill="#ffffff" cx="922.4" cy="295.1" rx="1.0" ry="1.0"/><ellipse fill="#ffffff" cx="786.6" cy="227.7" rx="3.3" ry="2.5"/><polygon fill="#00ffff" points="804.9,255.1 811.6,254.3 819.9,258.5 824.9,264.3 821.6,269.3 813.3,268.5 806.6,263.5"/><ellipse fill="#ffffff" cx="814.9" cy="261.8" rx="3.3" ry="3.0"/><polygon fill="#ffffff" points="775.8,236.0 777.5,231.0 780.0,233.5 778.3,236.8"/><ellipse fill="#00ffff" cx="919.0" cy="315.1" rx="4.7" ry="4.0"/><ellipse fill="#ffffff" cx="919.0" cy="315.1" rx="2.3" ry="2.0"/><polygon fill="#00ff00" points="848.2,287.6 854.9,286.0 861.6,289.3 864.9,296.0 859.9,301.0 853.2,302.6 849.1,296.0"/><polygon fill="#00ff00" points="803.3,286.0 808.3,282.6 814.9,284.3 821.6,289.3 828.3,292.6 826.6,301.0 819.9,304.3 813.3,299.3 806.6,294.3"/><ellipse fill="#32cd32" cx="824.9" cy="315.9" rx="3.7" ry="2.5"/><polygon fill="#00ced1" points="834.9,325.1 840.2,315.1 846.2,316.8 843.6,325.1"/><polygon fill="#00ffff" points="836.6,324.3 840.7,316.8 844.9,317.6 842.4,324.3"/><polygon fill="#ffffff" points="839.1,323.4 841.2,319.3 843.2,319.6 841.6,323.9"/><polygon fill="#00ff00" points="748.0,255.8 752.2,251.8 760.3,248.7 770.5,247.7 776.9,252.2 783.5,259.2 786.3,267.5 785.8,276.5 789.6,282.7 792.8,286.4 790.6,292.3 786.6,296.4 778.7,298.8 770.6,298.4 762.0,294.9 755.1,289.8 750.5,283.2 743.4,280.5 740.8,275.3 745.2,267.9 748.2,262.5"/><polygon fill="#00ced1" points="749.2,257.0 753.1,253.2 760.7,250.3 770.3,249.3 776.2,253.7 782.3,260.3 784.7,268.1 784.1,276.3 788.1,282.1 791.3,285.7 789.3,291.3 785.5,295.1 778.0,297.3 770.4,296.8 762.4,293.3 756.2,288.5 752.0,282.5 745.1,280.1 742.5,275.2 746.8,268.3 749.6,263.4"/><polygon fill="#00ffff" points="750.2,257.9 753.8,254.3 761.1,251.6 770.2,250.7 775.7,255.0 781.4,261.3 783.5,268.6 782.8,276.2 786.8,281.6 790.1,285.1 788.2,290.5 784.6,294.1 777.5,296.1 770.2,295.4 762.8,292.1 757.0,287.5 753.2,281.9 746.4,279.8 743.8,275.2 748.1,268.7 750.8,264.1"/><polygon fill="#ffffff" points="751.6,259.3 755.0,256.0 761.6,253.5 770.0,252.6 775.0,256.8 780.0,262.6 781.6,269.3 780.8,276.0 784.9,281.0 788.3,284.3 786.6,289.3 783.3,292.6 776.6,294.3 770.0,293.5 763.3,290.1 758.3,286.0 755.0,281.0 748.3,279.3 745.8,275.1 750.0,269.3 752.5,265.1"/><ellipse fill="#00ff00" cx="759.1" cy="242.7" rx="8.0" ry="7.0"/><ellipse fill="#00ced1" cx="759.1" cy="242.7" rx="6.4" ry="5.6"/><ellipse fill="#00ffff" cx="759.1" cy="242.7" rx="5.4" ry="4.8"/><ellipse fill="#ffffff" cx="759.1" cy="242.7" rx="3.4" ry="2.9"/><polygon fill="#00ff00" points="717.6,251.9 726.3,241.0 736.1,245.3 733.8,255.8 720.9,257.3"/><polygon fill="#00ffff" points="720.5,251.3 726.5,244.0 733.4,246.7 731.5,253.9 722.9,255.0"/><polygon fill="#ffffff" points="722.5,251.0 726.7,246.0 731.6,247.7 730.0,252.6 724.2,253.5"/><ellipse fill="#00ced1" cx="727.5" cy="303.9" rx="3.3" ry="2.7"/><ellipse fill="#00ffff" cx="727.5" cy="303.9" rx="2.3" ry="1.9"/><ellipse fill="#00ffff" cx="745.0" cy="303.4" rx="2.0" ry="1.7"/><ellipse fill="#00ced1" cx="782.1" cy="306.8" rx="3.2" ry="2.8"/><ellipse fill="#00ffff" cx="782.1" cy="306.8" rx="2.2" ry="2.0"/><ellipse fill="#00ced1" cx="808.3" cy="283.5" rx="4.0" ry="4.0"/><ellipse fill="#00ffff" cx="808.3" cy="283.5" rx="3.0" ry="3.0"/><ellipse fill="#ffffff" cx="808.3" cy="283.5" rx="1.4" ry="1.4"/><ellipse fill="#00ced1" cx="820.8" cy="288.0" rx="5.0" ry="3.0"/><ellipse fill="#00ffff" cx="820.8" cy="288.0" rx="4.0" ry="2.4"/><ellipse fill="#ffffff" cx="820.8" cy="288.0" rx="2.0" ry="1.2"/><ellipse fill="#00ced1" cx="821.6" cy="299.3" rx="4.3" ry="3.0"/><ellipse fill="#00ffff" cx="821.6" cy="299.3" rx="3.5" ry="2.4"/><ellipse fill="#00ced1" cx="864.1" cy="296.0" rx="4.2" ry="2.5"/><ellipse fill="#00ffff" cx="864.1" cy="296.0" rx="3.1" ry="1.9"/><ellipse fill="#00ffff" cx="854.1" cy="289.8" rx="1.0" ry="1.0"/><ellipse fill="#00ffff" cx="795.8" cy="280.1" rx="2.7" ry="2.3"/><polygon fill="#00ffff" points="929.9,342.3 936.6,344.0 946.6,350.6 953.3,354.0 963.2,355.6 961.6,364.0 959.9,370.6 951.6,372.3 946.6,365.6 944.9,357.3 936.6,350.6 929.9,347.3"/><polygon fill="#ffffff" points="949.1,364.0 954.1,361.5 959.1,364.0 955.7,370.6 951.6,368.1"/><ellipse fill="#ffffff" cx="948.3" cy="353.6" rx="2.0" ry="1.3"/><ellipse fill="#ffffff" cx="931.9" cy="344.8" rx="1.2" ry="1.0"/><polygon fill="#00ffff" points="929.9,377.3 938.3,372.3 946.6,371.5 949.9,379.0 946.6,387.3 938.3,388.1 931.6,384.0"/><polygon fill="#00ffff" points="965.7,378.1 971.6,379.8 974.9,383.1 969.9,384.0"/><polygon fill="#ffffff" points="973.2,329.0 977.4,324.0 982.4,328.2 979.9,332.3 974.1,332.3"/><ellipse fill="#ffffff" cx="994.9" cy="364.5" rx="3.7" ry="2.3"/><ellipse fill="#ffffff" cx="984.1" cy="396.0" rx="1.0" ry="2.5"/><ellipse fill="#00ffff" cx="911.2" cy="376.5" rx="4.0" ry="4.0"/><ellipse fill="#ffffff" cx="911.2" cy="376.5" rx="2.8" ry="2.8"/><ellipse fill="#ffffff" cx="909.0" cy="413.1" rx="1.7" ry="1.7"/><polygon fill="#00ced1" points="703.3,413.9 710.0,410.6 716.7,412.3 721.7,408.9 728.3,410.6 730.0,417.3 726.7,423.9 703.3,423.9"/><polygon fill="#00ffff" points="703.3,417.3 710.0,414.8 715.0,415.6 720.0,413.1 725.0,414.8 723.3,423.9 703.3,423.9"/><ellipse fill="#00ced1" cx="766.6" cy="399.8" rx="2.7" ry="2.3"/><ellipse fill="#00ffff" cx="766.6" cy="399.8" rx="1.9" ry="1.6"/><polygon fill="#00ced1" points="771.6,417.3 776.6,412.3 784.9,411.4 791.6,413.9 793.3,423.9 770.0,423.9"/><polygon fill="#00ffff" points="775.0,418.9 779.1,415.3 784.9,414.8 789.1,417.3 788.3,423.9 775.0,423.9"/><polygon fill="#00ced1" points="818.3,417.0 824.6,413.1 833.2,416.0 831.4,421.4 820.3,422.5"/><polygon fill="#00ffff" points="819.9,417.3 824.9,414.8 831.6,416.4 829.9,420.6 821.6,421.4"/><ellipse fill="#ffffff" cx="825.3" cy="418.1" rx="2.5" ry="1.3"/><ellipse fill="#00ff00" cx="838.2" cy="328.2" rx="8.0" ry="8.0"/><ellipse fill="#00ced1" cx="838.2" cy="328.2" rx="6.6" ry="6.6"/><ellipse fill="#00ffff" cx="838.2" cy="328.2" rx="5.8" ry="5.8"/><ellipse fill="#ffffff" cx="838.2" cy="328.2" rx="4.0" ry="4.0"/><ellipse fill="#00ff00" cx="836.9" cy="348.7" rx="6.7" ry="5.3"/><ellipse fill="#00ced1" cx="836.9" cy="348.7" rx="5.3" ry="4.3"/><ellipse fill="#00ffff" cx="836.9" cy="348.7" rx="4.5" ry="3.6"/><ellipse fill="#ffffff" cx="836.9" cy="348.7" rx="2.7" ry="2.1"/><polygon fill="#00ff00" points="802.4,357.3 807.4,344.0 814.9,349.8 816.3,366.5 809.1,370.3 804.1,364.8"/><polygon fill="#00ffff" points="804.1,357.3 808.3,346.5 813.3,350.6 814.1,365.6 809.1,368.1 805.8,364.0"/><polygon fill="#ffffff" points="806.6,357.3 809.1,350.6 811.6,357.3 811.6,364.8 809.1,365.6"/><ellipse fill="#00ff00" cx="794.1" cy="377.3" rx="5.0" ry="5.0"/><ellipse fill="#00ffff" cx="794.1" cy="377.3" rx="3.6" ry="3.6"/><ellipse fill="#ffffff" cx="794.1" cy="377.3" rx="2.0" ry="2.0"/><polygon fill="#00ff00" points="821.3,376.0 827.6,370.7 840.1,372.6 842.8,381.7 837.1,388.1 826.0,386.7"/><polygon fill="#00ffff" points="824.2,376.8 829.1,373.3 837.8,374.5 839.9,381.0 835.7,385.4 828.0,384.4"/><polygon fill="#ffffff" points="825.8,377.3 829.9,374.8 836.6,375.6 838.2,380.6 834.9,384.0 829.1,383.1"/><ellipse fill="#00ff00" cx="862.4" cy="382.3" rx="5.0" ry="5.5"/><ellipse fill="#00ffff" cx="862.4" cy="382.3" rx="3.6" ry="4.0"/><ellipse fill="#ffffff" cx="862.4" cy="382.3" rx="1.7" ry="1.9"/><ellipse fill="#00ff00" cx="877.4" cy="386.5" rx="5.5" ry="4.2"/><ellipse fill="#00ffff" cx="877.4" cy="386.5" rx="4.1" ry="3.1"/><ellipse fill="#ffffff" cx="877.4" cy="386.5" rx="2.2" ry="1.7"/><ellipse fill="#00ffff" cx="881.9" cy="333.2" rx="2.0" ry="3.3"/><ellipse fill="#00ffff" cx="881.5" cy="352.0" rx="2.7" ry="3.7"/><ellipse fill="#ffffff" cx="881.5" cy="352.0" rx="1.1" ry="1.5"/><ellipse fill="#00ffff" cx="903.2" cy="328.7" rx="1.3" ry="1.3"/><ellipse fill="#00ffff" cx="915.7" cy="334.8" rx="1.0" ry="1.0"/><ellipse fill="#00ff00" cx="784.9" cy="325.7" rx="2.3" ry="2.0"/><ellipse fill="#00ff00" cx="806.6" cy="324.8" rx="2.3" ry="2.0"/><polygon fill="#00ffff" points="745.0,452.0 751.6,445.3 760.0,440.3 768.3,435.3 776.6,430.3 783.3,425.3 786.6,430.3 781.6,437.0 775.0,442.0 768.3,447.0 760.0,451.1 753.3,455.3 748.3,457.8"/><polygon fill="#00ffff" points="703.3,468.6 710.0,463.6 718.3,460.3 728.3,457.8 730.0,463.6 726.7,470.3 723.3,478.6 716.7,487.0 710.0,490.3 703.3,492.0"/><polygon fill="#ffffff" points="730.8,459.5 736.6,456.1 745.0,455.3 750.0,457.8 746.6,462.0 738.3,462.8 732.5,462.0"/><polygon fill="#ffffff" points="709.2,482.0 713.3,473.6 720.0,467.8 725.0,469.5 721.7,477.0 715.0,483.6 710.8,486.1"/><polygon fill="#ffffff" points="765.0,470.3 770.0,462.0 775.0,459.5 779.1,462.8 776.6,470.3 771.6,475.3 766.6,474.5"/><polygon fill="#ffffff" points="827.4,430.3 832.4,428.7 834.1,432.0 832.4,435.3"/><ellipse fill="#ffffff" cx="772.5" cy="441.2" rx="3.3" ry="1.3"/><ellipse fill="#ffffff" cx="757.5" cy="454.8" rx="1.3" ry="1.3"/><ellipse fill="#ffffff" cx="786.6" cy="455.3" rx="2.5" ry="1.0"/><ellipse fill="#ffffff" cx="854.1" cy="442.0" rx="1.3" ry="1.7"/><ellipse fill="#ffffff" cx="844.1" cy="445.3" rx="1.3" ry="1.3"/><ellipse fill="#ffffff" cx="891.0" cy="428.3" rx="1.3" ry="1.3"/><ellipse fill="#ffffff" cx="758.3" cy="472.0" rx="1.0" ry="1.0"/><ellipse fill="#00ffff" cx="715.0" cy="427.8" rx="2.3" ry="2.3"/><ellipse fill="#00ffff" cx="735.8" cy="434.0" rx="2.0" ry="2.0"/><ellipse fill="#00ffff" cx="757.5" cy="430.7" rx="1.7" ry="1.7"/><polygon fill="#ffffff" points="973.3,329.1 978.3,324.1 982.5,328.3 980.0,332.5 975.0,332.5"/><polygon fill="#ffffff" points="1029.9,370.8 1034.9,365.8 1040.8,366.6 1038.3,370.8"/><polygon fill="#ffffff" points="1088.2,370.8 1094.9,369.1 1099.9,373.3 1089.9,373.3"/><polygon fill="#ffffff" points="1064.9,364.9 1069.9,361.6 1073.3,367.4 1069.9,369.9"/><ellipse fill="#ffffff" cx="995.8" cy="364.9" rx="3.7" ry="2.5"/><ellipse fill="#ffffff" cx="953.3" cy="365.8" rx="4.2" ry="3.7"/><ellipse fill="#ffffff" cx="1005.8" cy="331.6" rx="0.7" ry="0.7"/><polygon fill="#ffffff" points="1047.4,404.6 1051.6,399.6 1058.3,398.0 1063.3,402.1 1064.9,408.0 1059.9,413.8 1053.3,415.5 1048.3,412.1"/><polygon fill="#ffffff" points="1144.9,412.1 1152.4,402.1 1161.5,413.8 1149.9,413.8"/><ellipse fill="#ffffff" cx="1096.6" cy="379.7" rx="4.7" ry="4.7"/><ellipse fill="#ffffff" cx="1135.2" cy="382.2" rx="3.3" ry="2.5"/><ellipse fill="#ffffff" cx="1100.7" cy="391.3" rx="3.7" ry="2.0"/><ellipse fill="#ffffff" cx="1154.9" cy="396.8" rx="1.7" ry="1.7"/><ellipse fill="#ffffff" cx="1133.2" cy="411.0" rx="1.0" ry="1.0"/><ellipse fill="#ffffff" cx="1103.2" cy="430.5" rx="6.7" ry="3.7"/><ellipse fill="#ffffff" cx="1088.2" cy="427.1" rx="4.2" ry="2.0"/><ellipse fill="#ffffff" cx="1079.9" cy="430.5" rx="1.7" ry="1.7"/><ellipse fill="#ffffff" cx="1069.9" cy="423.0" rx="5.8" ry="4.2"/><ellipse fill="#ffffff" cx="1091.6" cy="443.8" rx="3.0" ry="1.7"/><ellipse fill="#ffffff" cx="1108.2" cy="449.6" rx="1.7" ry="1.7"/><ellipse fill="#ffffff" cx="1141.5" cy="448.0" rx="5.0" ry="5.0"/><ellipse fill="#ffffff" cx="1185.7" cy="426.3" rx="3.7" ry="2.3"/><ellipse fill="#00ced1" cx="1129.9" cy="464.6" rx="2.5" ry="2.5"/><polygon fill="#ffffff" points="1131.5,471.7 1139.9,470.8 1141.5,475.8 1136.5,481.7 1133.2,478.3"/><polygon fill="#ffffff" points="1126.5,485.0 1134.9,483.3 1141.5,490.0 1138.2,495.0 1133.2,493.3 1128.2,490.0"/><polygon fill="#ffffff" points="1184.0,485.0 1189.8,483.3 1194.8,485.0 1193.2,492.5 1184.8,492.5"/><ellipse fill="#ffffff" cx="1148.5" cy="491.6" rx="1.0" ry="1.0"/><ellipse fill="#00ced1" cx="1129.9" cy="465.0" rx="2.5" ry="2.5"/><ellipse fill="#00ffff" cx="1171.5" cy="470.0" rx="3.3" ry="2.3"/><ellipse fill="#00ffff" cx="1186.5" cy="480.0" rx="4.2" ry="2.5"/><polygon fill="#ffffff" points="1249.0,371.0 1251.0,363.0 1257.0,362.0 1260.0,368.0 1256.0,373.0"/><ellipse fill="#ffffff" cx="1183.0" cy="426.9" rx="4.4" ry="2.4"/><ellipse fill="#ffffff" cx="1223.0" cy="399.6" rx="3.0" ry="1.6"/><ellipse fill="#ffffff" cx="1270.9" cy="429.9" rx="2.0" ry="2.0"/><ellipse fill="#ffffff" cx="1275.9" cy="388.4" rx="1.6" ry="1.6"/><ellipse fill="#ffffff" cx="1294.9" cy="395.0" rx="2.0" ry="2.0"/><ellipse fill="#ffffff" cx="1246.0" cy="374.0" rx="1.2" ry="1.2"/><polygon fill="#00ffff" points="1187.0,411.9 1193.0,406.0 1199.0,407.9 1197.0,413.9 1191.0,415.9"/><polygon fill="#00ffff" points="1175.0,419.9 1185.0,417.9 1191.0,423.9 1189.0,431.9 1181.0,435.9 1175.0,433.9"/><ellipse fill="#ffffff" cx="1183.0" cy="426.9" rx="4.4" ry="2.4"/><ellipse fill="#00ffff" cx="1247.0" cy="382.0" rx="3.0" ry="3.0"/><polygon fill="#00ffff" points="1319.3,429.8 1326.9,424.3 1333.5,431.1 1328.3,436.5"/><polygon fill="#ffffff" points="1320.9,429.9 1326.9,425.9 1331.9,430.9 1327.9,434.9"/><polygon fill="#00ffff" points="1175.0,452.0 1189.0,450.0 1201.0,456.0 1213.0,462.0 1221.0,472.0 1217.0,482.0 1207.0,484.0 1197.0,480.0 1189.0,482.0 1181.0,478.0 1175.0,480.0"/><polygon fill="#00ffff" points="1207.0,490.0 1217.0,486.0 1229.0,482.0 1239.0,480.0 1243.0,488.0 1237.0,496.0 1229.0,502.0 1217.0,504.0 1209.0,500.0"/><polygon fill="#00ffff" points="1175.0,490.0 1183.0,492.0 1185.0,498.0 1175.0,500.0"/><polygon fill="#ffffff" points="1225.0,441.0 1231.0,439.0 1235.0,444.0 1230.0,446.0"/><ellipse fill="#ffffff" cx="1189.0" cy="488.4" rx="5.0" ry="4.4"/><ellipse fill="#ffffff" cx="1225.6" cy="465.0" rx="2.4" ry="2.4"/><ellipse fill="#ffffff" cx="1253.6" cy="473.6" rx="2.8" ry="2.4"/><ellipse fill="#ffffff" cx="1254.0" cy="503.0" rx="1.6" ry="1.6"/><ellipse fill="#ffffff" cx="1424.9" cy="480.0" rx="5.0" ry="2.4"/><polygon fill="#00ffff" points="1350.9,491.0 1360.9,490.0 1368.9,494.0 1374.9,498.0 1384.9,501.0 1392.9,500.0 1398.9,502.0 1406.9,506.0 1412.9,504.0 1418.9,508.0 1416.9,512.0 1408.9,511.0 1400.9,512.0 1392.9,508.0 1384.9,507.0 1376.9,506.0 1368.9,502.0 1360.9,498.0 1353.9,495.0"/><polygon fill="#ffffff" points="1353.9,492.0 1360.9,491.6 1367.9,495.6 1371.9,499.0 1366.9,499.0 1359.9,496.0"/><polygon fill="#ffffff" points="1376.9,502.4 1384.9,503.6 1391.9,502.4 1392.9,505.0 1384.9,506.0 1377.9,504.8"/><polygon fill="#ffffff" points="1398.9,504.4 1404.9,506.4 1406.9,509.0 1400.9,509.6"/><polygon fill="#00ff00" points="1422.9,506.0 1426.9,505.0 1438.8,513.0 1436.8,514.4"/><polygon fill="#ffd700" points="1424.9,506.0 1426.9,505.6 1436.8,512.6 1435.8,513.6"/><polygon fill="#00ff00" points="1380.9,500.0 1388.9,501.0 1387.9,502.4 1380.9,501.6"/><polygon fill="#00ff00" points="1402.9,505.0 1408.9,507.0 1414.9,509.0 1413.9,510.4 1406.9,509.0"/><polygon fill="#00ced1" points="1386.2,455.2 1391.7,450.8 1399.1,458.8 1395.0,467.0 1387.9,464.5"/><polygon fill="#00ffff" points="1387.4,456.0 1391.8,452.2 1397.7,458.9 1394.5,465.7 1388.8,463.4"/><polygon fill="#ffffff" points="1388.9,457.0 1391.9,454.0 1395.9,459.0 1393.9,464.0 1389.9,462.0"/><polygon fill="#00ffff" points="1264.9,449.0 1270.9,448.0 1276.9,454.0 1272.9,457.0 1266.9,453.0"/><ellipse fill="#ffffff" cx="1270.9" cy="452.4" rx="2.4" ry="1.6"/><polygon fill="#00ffff" points="1346.9,446.0 1350.9,445.0 1356.9,452.0 1360.9,457.0 1356.9,458.0 1350.9,452.0"/><ellipse fill="#00ffff" cx="1335.9" cy="459.0" rx="2.4" ry="2.4"/><ellipse fill="#00ffff" cx="1360.9" cy="464.0" rx="2.0" ry="2.0"/><ellipse fill="#00ffff" cx="1328.9" cy="433.0" rx="5.0" ry="2.0"/><ellipse fill="#ffffff" cx="1328.9" cy="433.0" rx="2.5" ry="1.0"/><polygon fill="#00ffff" points="1296.9,462.0 1304.9,466.0 1312.9,472.0 1316.9,475.0 1312.9,475.0 1304.9,471.0 1296.9,465.0"/><polygon fill="#00ffff" points="1302.9,492.0 1310.9,491.0 1310.9,496.0 1304.9,497.0"/><polygon fill="#00ffff" points="1319.2,426.8 1324.0,425.3 1333.2,430.9 1334.6,435.0 1326.1,434.9"/><polygon fill="#ffffff" points="1320.7,427.5 1324.9,426.6 1331.6,430.8 1333.2,434.1 1326.6,433.3"/><polygon fill="#00ffff" points="1344.9,445.0 1348.2,444.1 1356.6,451.6 1359.9,456.6 1356.6,457.5 1349.9,451.6"/><ellipse fill="#00ced1" cx="1392.4" cy="459.1" rx="5.7" ry="7.0"/><ellipse fill="#00ffff" cx="1392.4" cy="459.1" rx="4.8" ry="5.9"/><ellipse fill="#ffffff" cx="1392.4" cy="459.1" rx="3.4" ry="4.2"/><ellipse fill="#00ffff" cx="1335.7" cy="459.1" rx="2.0" ry="2.0"/><ellipse fill="#ffffff" cx="1269.9" cy="430.0" rx="1.7" ry="1.7"/><polygon fill="#00ffff" points="1223.7,441.3 1228.7,438.7 1236.3,444.5 1232.2,447.0"/><polygon fill="#ffffff" points="1225.0,441.6 1229.1,440.0 1235.0,444.1 1231.6,445.8"/><polygon fill="#00ffff" points="1263.3,449.1 1268.3,448.3 1276.6,453.3 1274.9,455.8 1268.3,453.3"/><ellipse fill="#ffffff" cx="1225.5" cy="464.6" rx="2.5" ry="2.5"/><ellipse fill="#00ffff" cx="1253.3" cy="472.9" rx="3.3" ry="3.0"/><ellipse fill="#ffffff" cx="1253.3" cy="472.9" rx="2.2" ry="1.9"/><polygon fill="#00ff00" points="647.1,366.3 652.3,357.2 656.0,348.0 658.8,337.6 665.2,332.3 674.0,333.0 678.8,340.2 679.0,350.5 684.4,357.4 698.2,350.7 708.5,345.4 715.7,339.6 724.2,336.2 734.1,341.7 740.7,350.8 738.4,361.1 736.0,371.4 732.7,383.0 722.7,388.5 707.4,391.0 691.4,388.5 680.3,383.3 670.0,384.7 660.1,385.1 652.6,379.7"/><polygon fill="#00ced1" points="650.8,365.8 656.0,357.5 659.6,349.2 662.0,339.7 667.9,335.0 676.2,336.2 680.9,343.3 682.1,352.8 688.0,358.7 696.3,353.9 705.8,348.0 712.9,342.1 721.2,338.5 730.6,343.3 737.0,351.6 734.6,361.0 732.3,370.5 729.4,381.2 720.0,385.9 705.8,387.6 691.6,384.7 682.1,380.0 672.6,381.9 663.1,382.8 656.0,378.1"/><polygon fill="#00ffff" points="689.2,370.5 696.3,363.4 705.8,358.7 712.9,352.0 720.0,346.8 729.4,346.8 734.2,353.9 729.4,361.0 727.1,370.5 720.0,378.1 710.5,381.4 701.0,382.4 691.6,380.0"/><polygon fill="#00ffff" points="660.8,345.6 665.5,339.7 672.6,338.5 677.3,344.5 676.2,352.8 671.4,361.0 665.5,361.0 662.0,353.9"/><polygon fill="#ffffff" points="708.1,372.9 714.0,367.0 718.8,372.9 716.4,378.8 709.3,377.6"/><polygon fill="#ffffff" points="722.3,349.2 729.4,349.2 729.4,353.5 723.5,353.9"/><polygon fill="#ffffff" points="666.7,342.1 671.4,340.2 673.8,345.6 669.1,348.0"/><polygon fill="#ffffff" points="665.5,357.5 670.2,357.5 670.2,360.6 665.5,360.6"/><ellipse fill="#ffffff" cx="664.3" cy="349.7" rx="1.4" ry="1.4"/><ellipse fill="#00ffff" cx="663.1" cy="379.5" rx="2.1" ry="1.9"/><polygon fill="#00ffff" points="1175.7,423.4 1190.7,418.4 1203.2,430.9 1188.2,443.4 1176.7,439.9"/><polygon fill="#00ffff" points="1175.7,463.4 1188.2,458.4 1198.2,470.9 1185.7,481.9 1175.7,478.4"/><polygon fill="#00ffff" points="1176.7,403.4 1185.7,398.4 1193.2,408.4 1183.2,415.9"/><polygon fill="#00ffff" points="1160.4,399.0 1171.1,415.5 1168.7,422.7 1175.8,434.5 1190.0,439.2 1201.9,444.0 1211.4,451.1 1228.0,458.2 1237.4,465.3 1242.2,474.8 1239.8,486.6 1242.2,498.5 1232.7,500.9 1218.5,503.2 1204.3,505.6 1190.0,503.2 1178.2,498.5 1168.7,493.7 1159.2,484.3 1152.1,470.0 1154.5,458.2 1160.4,439.2 1160.4,415.5"/><polygon fill="#00ced1" points="1149.8,455.8 1159.2,453.5 1166.4,460.6 1171.1,470.0 1178.2,477.2 1171.1,479.5 1164.0,474.8 1156.9,467.7"/><polygon fill="#00ced1" points="1173.5,458.2 1182.9,451.1 1192.4,453.5 1199.5,462.9 1194.8,467.7 1185.3,462.9 1175.8,465.3"/><polygon fill="#00ced1" points="1192.4,493.7 1201.9,484.3 1211.4,477.2 1223.2,479.5 1232.7,484.3 1228.0,491.4 1218.5,493.7 1209.0,498.5 1199.5,500.9"/><polygon fill="#00ced1" points="1171.1,491.4 1178.2,489.0 1180.6,496.1 1173.5,498.5"/><polygon fill="#00ced1" points="1209.0,462.9 1218.5,460.6 1223.2,467.7 1213.7,470.0"/><polygon fill="#00ced1" points="1162.1,402.5 1171.1,400.1 1178.2,406.1 1175.8,415.5 1171.1,415.5"/><polygon fill="#ffffff" points="1181.8,425.0 1186.5,423.8 1191.2,427.4 1186.5,429.3"/><ellipse fill="#ffffff" cx="1188.9" cy="487.8" rx="4.3" ry="4.3"/><ellipse fill="#ffffff" cx="1225.6" cy="464.6" rx="2.4" ry="2.4"/></g>
<g clip-path="url(#ax)" fill="none" stroke="#000" stroke-width="1.65" stroke-linejoin="round" stroke-linecap="round">
<g clip-path="url(#c60_0)"><path d="M75.5 41.3 L80.0 37.5 L85.0 30.0 L91.3 32.5 L97.5 34.0 L106.3 35.0 L111.3 37.0 L117.1 35.5 L113.8 31.8 L107.6 32.5 L111.3 30.8 L120.1 31.3 L127.6 33.8 L130.1 40.1 L136.3 46.8 L145.1 44.6 L152.6 42.6 L160.1 36.3 L167.6 27.5 L173.9 21.8 L182.7 21.3 L192.7 20.5 L198.9 15.5 L205.2 12.5 L212.7 11.8 L213.2 17.5 L216.4 26.3 L221.5 24.3 L222.2 30.0 L221.5 45.1 L220.2 52.6 L226.5 56.3 L229.0 67.6 L230.7 61.3 L240.2 58.1 L244.5 55.6 L246.5 65.1 L245.2 80.1 L245.7 86.4 L244.7 100.1 L245.2 105.1 L240.2 110.1 L233.5 115.1 L231.5 122.7 L226.5 132.7 L222.7 145.2"/><path d="M173.9 21.8 L171.4 10.0"/><path d="M235.2 10.0 L240.2 16.3 L244.0 30.0 L250.2 50.1 L257.7 73.8 L257.7 77.6 L246.5 80.1"/><path d="M257.7 73.8 L260.3 70.1 L267.8 67.6 L275.3 68.8 L282.8 67.6 L286.5 69.6 L289.0 61.3 L292.8 59.6 L293.3 53.1 L291.5 53.1 L294.0 42.6 L296.5 37.5 L301.6 25.0 L306.6 18.8 L311.6 11.3 L312.1 10.0"/><path d="M80.0 10.0 L81.3 15.0 L78.8 22.5 L75.5 27.5"/><path d="M75.5 27.5 L77.5 31.3 L81.3 33.8"/></g>
<g clip-path="url(#c60_140)"><path d="M224.0 140.0 L222.2 146.3 L225.2 151.3 L230.2 149.5 L229.7 153.8 L225.2 158.8 L222.7 166.3 L216.4 180.1 L211.4 185.1 L206.4 189.3 L198.9 191.3 L196.4 196.3 L195.7 203.8 L194.4 211.3 L200.2 213.3 L202.7 219.6 L207.2 220.6 L205.9 228.9 L203.9 235.1 L198.9 238.9 L193.9 245.1 L189.7 249.4 L189.4 253.9 L190.9 257.1 L188.4 263.9 L184.4 271.4 L177.6 274.4 L175.9 276.9 L179.6 281.9"/><path d="M107.6 287.7 L110.1 284.7 L120.1 283.4 L135.1 283.9 L160.1 283.2 L179.6 281.9 L185.2 279.7 L190.2 278.4 L196.4 281.4 L205.2 283.2 L209.4 287.7"/><path d="M428.0 250.1 L415.4 255.6 L406.7 259.6 L401.7 265.2 L397.9 270.2 L395.4 280.2 L392.4 287.7"/></g>
<g clip-path="url(#c60_280)"><path d="M75.5 310.5 L85.0 303.8 L96.3 296.3 L104.6 292.5 L110.1 285.0 L120.1 283.5 L135.1 284.0 L160.1 283.0 L179.6 282.5"/><path d="M196.4 282.0 L206.4 283.8 L211.4 288.8 L213.2 293.8 L220.2 312.5 L226.5 320.6 L234.0 324.6 L240.7 327.1"/><path d="M395.4 280.0 L394.2 286.3 L390.4 293.0 L377.9 302.5 L371.1 310.0 L369.6 316.3 L368.6 323.1 L356.6 325.6 L345.4 328.8 L335.3 329.3 L325.3 330.1 L315.3 332.1 L306.6 335.6 L296.5 339.6 L289.0 341.3 L282.8 339.6 L277.8 333.8 L275.3 328.8 L274.8 324.6 L268.3 318.8 L262.3 316.3 L252.7 318.3 L246.5 323.3 L240.7 327.1 L234.5 333.8 L230.2 347.1 L226.5 352.6 L220.2 357.6 L215.2 363.9 L210.2 368.9 L201.4 375.1 L193.9 382.6 L190.2 390.1 L188.4 397.6 L186.4 410.2 L188.9 413.9 L200.2 418.4 L210.2 425.7 L220.2 426.4 L231.5 425.9 L236.5 427.7"/></g>
<g clip-path="url(#c60_420)"><path d="M201.4 420.0 L210.2 426.3 L220.2 426.3 L232.7 425.8 L238.2 430.0 L239.0 437.5 L238.2 445.0 L238.2 452.5 L235.2 460.1 L232.2 466.3 L231.7 472.6 L235.2 480.1 L242.7 486.3 L245.7 492.6 L254.0 495.1 L265.3 494.6 L272.8 492.6 L276.0 495.1 L276.5 505.1 L275.8 515.1 L280.3 520.1 L281.5 525.1 L290.3 532.6 L292.8 540.2 L294.8 547.7"/></g>
<g clip-path="url(#c420_0)"><path d="M606.5 10.0 L599.0 13.8 L592.7 16.3 L590.2 20.0 L582.7 21.3 L575.2 26.3 L570.2 31.3 L566.9 38.8 L570.2 43.8 L573.2 50.1 L576.4 56.3 L573.2 62.6 L570.2 68.8 L568.9 75.1 L569.4 81.4 L575.2 84.6 L579.4 86.4 L572.7 91.4 L565.2 96.4 L555.2 100.1 L550.2 105.1 L542.7 112.6 L536.4 118.9 L530.1 125.2 L525.1 133.9 L520.1 137.7 L517.6 140.2 L522.6 145.2 L523.9 147.7"/><path d="M647.8 10.0 L657.8 12.5 L670.3 17.5 L675.3 22.5 L678.3 27.5 L674.8 30.5 L680.3 38.8 L686.6 48.8 L690.3 57.6 L693.3 65.6 L697.8 68.1 L704.1 66.3 L705.4 61.3 L708.4 60.1 L712.9 66.3 L720.4 70.1 L726.6 73.8 L727.9 77.6 L726.6 85.1 L731.6 91.4 L737.9 96.4 L742.9 100.1 L745.4 100.1 L752.9 107.6 L760.4 112.6 L766.7 117.6 L767.9 125.2 L772.9 130.2 L780.5 132.7 L788.0 135.2"/><path d="M742.9 100.1 L740.4 105.1 L744.2 111.4 L747.9 117.6 L749.9 125.2 L747.9 130.2 L749.2 138.9 L745.4 135.2 L737.9 136.4 L735.4 140.2 L730.4 143.9 L722.9 147.7"/><path d="M734.1 108.9 L736.6 107.1 L742.9 107.1 L744.2 111.4 L740.4 113.9 L735.4 112.6 L734.1 108.9"/></g>
<g clip-path="url(#c420_140)"><path d="M517.6 140.0 L523.9 147.5 L526.4 153.8 L520.1 158.8 L502.6 165.0 L485.1 170.5 L480.1 175.0 L477.6 190.1 L470.1 207.6 L457.5 225.1 L447.5 240.1 L432.5 247.6 L420.0 253.9"/><path d="M526.4 153.8 L523.9 160.0 L520.9 168.0 L532.6 169.5 L550.2 170.5 L570.2 172.0 L580.2 170.5 L590.2 169.5 L597.7 171.3 L605.2 177.0 L611.5 177.5 L612.7 173.8 L614.0 181.3 L619.0 182.6 L621.5 188.8 L619.7 192.6 L622.8 200.1 L626.5 200.1 L627.8 195.1 L632.8 190.1 L639.0 183.8 L646.5 182.6 L655.3 184.6 L661.6 181.3 L670.3 181.3 L675.3 186.3 L682.8 186.3 L690.3 181.3 L697.8 177.5 L695.3 170.0 L697.3 158.8 L702.9 157.5 L711.6 153.8 L712.9 158.8 L720.4 161.3 L726.6 157.5 L727.9 151.3 L722.9 149.5 L727.9 146.3 L735.4 142.5 L740.4 140.0"/><path d="M570.2 172.0 L566.4 177.5 L565.2 186.3 L570.2 188.8 L573.9 186.3 L575.7 197.6 L576.4 206.3 L571.4 208.8 L573.9 213.8 L577.7 217.6 L580.2 215.1 L590.2 213.8 L595.2 213.1 L600.2 216.3 L604.0 221.4 L610.2 223.9 L615.2 226.4 L622.8 222.6 L630.3 221.4 L635.3 226.4 L634.0 231.4 L637.8 237.6 L642.8 243.9 L645.3 248.9 L644.0 253.9 L647.8 262.7 L651.5 270.2 L657.8 277.7 L664.1 283.9 L667.8 287.7"/><path d="M788.0 156.3 L780.5 162.5 L774.2 167.5 L771.7 175.0 L769.2 185.1 L765.4 192.6 L761.7 200.1 L762.9 207.6 L766.7 211.3 L765.9 225.1 L767.9 235.1 L770.4 245.1 L771.7 253.9"/><path d="M771.7 253.9 L762.9 253.9 L756.7 255.1 L752.9 256.4 L751.7 262.7 L754.2 266.4 L750.4 272.7 L745.4 275.2 L746.7 278.9 L755.4 280.2 L762.9 278.9 L769.2 282.7 L772.9 285.2 L777.9 280.2 L781.7 275.2 L780.5 267.7 L776.7 261.4 L771.7 253.9"/></g>
<g clip-path="url(#c420_280)"><path d="M656.5 280.0 L664.1 285.0 L672.8 290.0 L680.3 297.5 L686.6 305.0 L680.3 307.5 L677.8 311.3 L681.6 313.8 L677.8 317.5 L675.8 323.8 L680.3 330.1 L687.8 331.3 L695.3 333.1 L695.3 325.1 L694.1 317.5 L696.6 313.8 L704.1 312.5 L704.1 305.0 L707.9 306.3 L715.4 308.8 L716.6 313.8 L721.6 315.0 L724.1 320.1 L730.4 315.0 L736.6 308.8 L742.9 302.5 L746.7 302.5 L751.7 310.0 L751.7 325.1 L750.4 336.3 L749.9 342.6 L754.2 342.6 L756.7 338.8 L762.9 336.3 L770.4 333.8 L777.9 333.8 L788.0 330.1"/><path d="M779.2 333.8 L780.5 340.1 L783.0 350.1 L788.0 360.1"/></g>
<g clip-path="url(#c420_420)"><path d="M788.0 442.5 L780.5 445.0 L770.4 451.3 L764.2 455.0 L755.4 461.3 L745.4 467.6 L735.4 473.8 L727.9 477.6 L721.6 483.8 L717.9 491.3 L719.1 500.1 L722.9 510.1 L730.4 516.4 L740.4 520.1 L750.4 522.6 L760.4 520.1 L770.4 518.9 L776.7 513.9 L782.5 513.9 L784.2 520.1 L783.5 527.6 L786.7 532.6 L780.5 537.6 L770.4 538.1 L757.9 540.7 L747.9 543.9 L744.7 548.2"/><path d="M612.7 548.2 L616.5 543.2 L629.0 541.9 L630.3 543.9 L627.8 548.2"/></g>
<g clip-path="url(#c780_0)"><path d="M878.9 10.0 L883.9 15.0 L888.9 18.8 L886.4 26.3 L883.1 32.5 L885.1 38.8 L890.1 42.6 L894.6 46.3 L890.1 50.1 L884.6 53.8 L890.1 58.8 L888.9 66.3 L891.4 70.1 L900.2 70.6 L903.9 73.8 L907.7 80.1 L903.9 82.6 L897.6 82.1 L893.9 77.6 L890.1 76.3 L880.1 75.1 L871.4 75.1 L865.1 71.3 L855.1 69.6 L847.6 72.6 L835.1 78.8 L827.6 80.1 L821.3 85.1 L816.3 90.1 L817.5 93.9 L813.8 95.1 L815.0 100.1 L811.3 110.1 L813.8 117.6 L815.0 123.9 L818.8 128.2 L811.3 132.7 L800.0 136.4 L790.0 135.2 L780.0 132.7"/><path d="M800.0 136.4 L801.3 141.4 L800.0 147.7"/><path d="M803.8 137.7 L812.5 143.9 L825.1 147.7"/><path d="M902.7 70.6 L907.7 63.8 L913.9 57.6 L920.2 60.1 L926.4 68.8 L928.9 73.8 L931.4 80.1 L937.7 88.9 L944.0 91.4 L951.5 96.4 L957.7 94.6 L966.5 93.9 L972.7 96.4 L977.7 101.4 L986.5 105.1 L990.3 108.9 L996.5 108.1 L1001.0 113.9 L997.3 117.6 L998.5 124.7 L1005.3 125.2 L1014.0 128.9 L1022.8 132.7 L1030.3 132.7 L1037.8 136.4 L1042.8 142.7 L1049.1 145.2 L1056.6 147.7"/><path d="M1086.6 147.7 L1089.1 138.9 L1096.6 142.7 L1104.2 136.4 L1112.9 138.9 L1121.7 140.2 L1130.4 141.4 L1135.4 143.2 L1141.7 142.2 L1143.0 147.7"/></g>
<g clip-path="url(#c780_140)"><path d="M801.3 140.0 L798.8 147.5 L790.0 157.5 L780.0 165.0"/><path d="M810.0 140.0 L817.5 145.0 L827.6 150.0 L821.3 157.5 L815.0 167.5 L813.8 176.3 L816.3 185.1 L820.1 193.1 L830.1 188.8 L840.1 193.8 L846.3 190.1 L847.6 182.6 L844.6 175.0 L847.6 171.3 L852.6 175.0 L860.1 183.8 L868.9 188.8 L873.9 196.3 L882.6 202.6 L892.6 207.6 L901.4 211.8 L900.2 215.1 L892.6 217.6 L887.1 220.6 L895.1 226.4 L901.4 231.4 L902.7 234.6 L912.7 232.1 L920.2 237.6 L927.7 242.6 L936.4 246.4 L942.7 253.9 L952.7 252.6 L965.2 252.1 L972.7 255.1 L977.7 260.2 L982.8 263.2 L987.8 261.4 L989.0 257.6"/><path d="M1040.3 140.0 L1045.3 145.0 L1057.8 150.0 L1059.1 153.0 L1049.1 152.5 L1046.6 157.5 L1040.3 163.8 L1034.1 170.0 L1026.6 172.5 L1021.6 180.1 L1014.0 185.1 L1010.3 192.6 L1011.5 200.1 L1005.3 206.3 L1000.3 212.6 L1004.0 220.1 L1004.0 226.4 L999.0 228.9 L1000.3 233.9 L992.8 236.4 L992.3 245.1 L986.5 250.1 L989.0 257.6 L997.8 262.7 L1007.8 270.2 L1015.3 272.7 L1021.6 276.4 L1022.3 270.2 L1026.6 268.9 L1035.3 275.2 L1045.3 281.4 L1055.3 285.2 L1059.1 287.7"/><path d="M1057.8 150.0 L1062.9 160.0 L1066.6 166.3 L1061.6 171.3 L1064.1 180.1 L1062.9 186.3 L1052.8 190.1 L1041.6 193.8 L1041.6 202.6 L1045.3 206.3 L1050.3 210.1 L1045.3 213.8 L1040.3 217.6 L1036.6 225.1 L1030.3 230.1 L1024.1 238.9 L1021.6 247.6 L1022.8 257.6 L1024.1 267.7"/><path d="M1066.6 166.3 L1076.6 166.3 L1079.1 162.5 L1087.9 165.0 L1092.9 166.3 L1094.1 172.5 L1097.9 175.0 L1107.9 171.3 L1117.9 175.0 L1115.4 182.6 L1112.9 190.1 L1117.9 196.3 L1119.2 201.3 L1114.2 206.3 L1115.4 213.8 L1110.4 217.6 L1099.1 220.1 L1095.9 225.1 L1096.6 232.6 L1101.7 236.4 L1102.9 240.1 L1112.9 242.6 L1127.9 245.1 L1137.9 242.6 L1148.0 237.6"/><path d="M1079.1 162.5 L1081.6 157.5 L1086.6 153.8 L1086.6 146.3 L1089.1 140.0"/><path d="M1092.9 140.0 L1097.9 142.5 L1100.4 140.0"/><path d="M1117.9 140.0 L1130.4 141.3 L1140.5 143.8 L1148.0 143.8"/><path d="M1101.7 236.4 L1095.4 238.9 L1090.4 242.6 L1092.9 247.6 L1097.9 253.9 L1101.7 260.2 L1099.1 262.7 L1096.6 257.6 L1090.4 251.4 L1080.4 248.9 L1070.4 246.4 L1062.9 246.4 L1059.1 248.9 L1066.6 253.9 L1075.4 256.4 L1079.1 262.7 L1079.1 270.2 L1075.4 277.7 L1067.9 283.9 L1062.9 287.7"/><path d="M1148.0 270.2 L1137.9 272.7 L1134.2 280.2 L1132.9 287.7"/></g>
<g clip-path="url(#c780_280)"><path d="M785.0 280.0 L790.0 285.0 L793.8 292.5 L795.0 300.0 L796.3 307.5 L793.8 315.0 L796.3 323.8 L790.0 328.8 L780.0 332.6"/><path d="M780.0 340.1 L783.8 347.6 L785.0 355.1 L792.5 365.1 L801.3 371.4 L805.0 378.9 L802.5 385.1 L795.0 387.6 L798.8 392.6 L807.5 393.1 L811.3 394.6 L807.5 396.4 L798.8 400.2 L790.0 403.9 L787.5 407.7 L788.8 411.4 L795.0 408.9 L802.5 405.2 L811.3 402.2 L825.1 401.4 L833.8 402.7 L842.6 400.2 L850.1 400.7 L855.1 405.2 L865.1 407.7 L875.1 410.2 L885.1 410.7 L892.6 413.9 L900.2 417.7 L903.9 423.9 L906.4 427.7"/><path d="M846.3 412.7 L838.8 415.2 L830.1 418.9 L821.3 422.7 L818.8 427.7"/><path d="M1041.6 280.0 L1050.3 282.5 L1060.4 286.3 L1064.1 288.8 L1071.6 295.0 L1076.6 301.3 L1082.9 307.5 L1089.1 306.3 L1095.4 312.5 L1105.4 318.8 L1115.4 325.1 L1126.7 330.1 L1135.4 326.3 L1140.5 324.6 L1148.0 323.8"/><path d="M1071.6 280.0 L1065.4 285.0 L1064.1 288.8"/><path d="M1135.4 280.0 L1132.9 286.3 L1140.5 293.8 L1141.7 300.0 L1136.7 305.0 L1140.5 311.3 L1148.0 316.3"/><path d="M1140.5 324.6 L1148.0 331.3"/></g>
<g clip-path="url(#c780_420)"><path d="M830.1 420.0 L822.6 425.0 L810.0 431.3 L795.0 438.8 L780.0 445.0"/><path d="M905.2 420.0 L908.9 427.5 L912.7 437.5 L911.4 445.0 L905.2 450.0 L903.9 456.3 L902.7 460.1 L903.9 465.1 L900.2 472.6 L895.1 480.1 L890.1 486.3 L887.6 492.6 L888.9 497.6 L880.1 500.6 L867.6 502.6 L860.1 505.1 L857.6 510.1 L851.3 516.4 L855.1 525.1 L858.8 532.6 L859.6 540.2 L856.3 548.2"/><path d="M880.1 548.2 L878.9 540.2 L876.4 532.6 L871.4 525.1 L873.9 518.9 L878.9 515.1 L885.1 517.6 L888.9 515.1 L887.6 508.9 L892.6 507.6 L893.9 513.9 L897.6 515.1 L898.9 507.6 L901.4 506.4 L902.7 512.6 L905.2 517.6 L902.7 522.6 L898.9 526.4 L897.6 531.4 L901.4 532.6 L905.2 527.6 L907.7 525.1 L910.2 530.1 L916.4 531.4 L918.9 535.1 L925.2 532.6 L930.2 531.4 L928.9 523.9 L931.4 518.9 L932.7 525.1 L930.2 530.1 L935.2 527.6 L940.2 523.9 L940.2 528.9 L936.4 533.9 L933.9 538.9 L937.7 540.7 L942.7 537.6 L950.2 533.9 L960.2 534.6 L970.2 535.6 L971.5 530.1 L977.7 525.1 L987.8 520.1 L997.8 516.4 L1000.3 514.6 L1006.5 515.1 L1009.0 522.6 L1015.3 527.6 L1014.0 533.9 L1007.8 537.6 L1004.0 541.4 L1006.5 545.2 L1012.8 542.7 L1020.3 543.9 L1024.1 540.2 L1019.0 537.6 L1027.8 535.1 L1034.1 538.9 L1040.3 533.9 L1046.6 530.1 L1049.1 531.4 L1046.6 540.2 L1042.8 548.2"/><path d="M1072.9 548.2 L1076.6 541.4 L1077.9 535.1 L1084.1 533.9 L1090.4 537.6 L1094.1 532.6 L1100.4 531.4 L1102.9 537.6 L1110.4 541.4 L1121.7 543.9 L1126.7 548.2"/><path d="M780.0 512.6 L783.8 515.1 L784.5 522.6 L787.0 530.1 L784.5 536.4 L780.0 537.6"/></g>
<g clip-path="url(#c1103_0)"><path d="M1103.0 136.4 L1108.0 137.2 L1118.0 140.2 L1128.0 140.2 L1135.5 142.7 L1141.8 142.2 L1142.5 147.7"/></g>
<g clip-path="url(#c1103_140)"><path d="M1115.5 140.0 L1128.0 141.3 L1141.8 142.5 L1143.1 150.0 L1148.1 155.0 L1146.8 161.3 L1153.1 164.5 L1165.6 168.8 L1175.6 175.0 L1183.1 180.6 L1186.9 181.3 L1188.1 185.1 L1198.1 192.6 L1205.6 192.1 L1213.1 196.3 L1216.9 200.1 L1220.6 196.3 L1225.7 197.6 L1230.7 202.6 L1230.7 206.3 L1235.7 207.6 L1239.4 212.6 L1243.2 218.8 L1250.7 228.9 L1260.7 231.9 L1261.9 227.6 L1270.7 225.6 L1278.2 222.1 L1285.7 222.1 L1294.5 223.9 L1299.5 228.9 L1298.2 233.9 L1303.3 240.1 L1303.3 245.1 L1302.7 250.1 L1310.8 252.6 L1315.8 256.4 L1320.8 262.7 L1329.5 266.4 L1337.0 270.2 L1339.5 272.7 L1347.1 277.2 L1355.8 277.7 L1360.8 273.9 L1365.8 270.7 L1375.3 275.2 L1373.3 281.4 L1369.6 287.7"/><path d="M1260.7 231.9 L1258.2 240.1 L1253.2 250.1 L1248.2 260.2 L1239.4 263.2 L1230.7 264.4 L1221.9 263.9 L1210.6 258.9 L1203.1 257.1 L1190.6 256.4 L1186.9 250.1 L1183.1 246.4 L1176.8 244.6 L1166.8 242.6 L1164.3 236.4 L1156.8 235.1 L1148.1 237.6 L1140.5 243.9 L1136.8 242.6 L1128.0 245.1 L1115.5 242.6 L1103.0 240.1"/><path d="M1176.8 244.6 L1173.1 250.1 L1166.8 255.1 L1158.1 261.4 L1153.1 266.4 L1148.1 270.2 L1140.5 271.4 L1135.5 276.4 L1136.8 282.7 L1133.0 287.7"/><path d="M1221.9 263.9 L1219.4 268.9 L1213.1 272.7 L1208.1 273.9 L1205.6 278.9 L1203.1 282.7 L1204.4 287.7"/><path d="M1302.7 250.1 L1295.7 252.6 L1283.2 257.1 L1275.7 262.7 L1271.2 265.2 L1274.5 271.4 L1271.2 277.7 L1268.2 283.9 L1266.2 287.7"/><path d="M1103.0 172.0 L1113.0 173.0 L1118.5 176.3 L1115.5 182.6 L1113.0 192.6 L1116.8 196.3 L1119.3 200.1 L1114.3 206.3 L1113.0 212.6 L1114.3 216.3 L1108.0 217.6 L1103.0 216.3"/></g>
<g clip-path="url(#c1103_280)"><path d="M1103.0 317.5 L1110.5 321.3 L1118.0 326.3 L1125.5 330.1 L1130.5 326.3 L1138.0 326.3 L1146.8 331.3 L1155.6 337.1 L1168.1 344.6 L1178.1 343.1 L1186.9 341.3 L1189.4 348.8 L1190.6 355.1 L1199.4 358.1 L1210.6 360.6 L1220.6 361.4 L1226.9 365.1 L1230.7 369.6 L1235.7 368.9 L1239.4 361.4 L1248.2 360.1 L1258.2 361.4 L1268.2 365.1 L1275.7 368.1 L1277.0 373.9 L1280.7 377.6 L1283.2 385.1 L1288.2 392.6 L1293.2 398.9 L1300.7 405.2 L1305.8 413.9 L1315.8 420.2 L1315.8 422.2 L1303.3 422.2 L1294.5 422.7 L1290.7 427.7"/><path d="M1135.5 280.0 L1131.8 286.3 L1135.5 292.5 L1141.8 297.5 L1138.0 303.8 L1136.8 307.5 L1144.3 312.5 L1149.3 318.8 L1146.8 323.8 L1138.0 326.3"/><path d="M1203.1 280.0 L1206.9 287.5 L1214.4 295.0 L1219.4 300.0 L1213.1 303.8 L1210.6 312.5 L1209.4 320.1 L1203.1 326.3 L1195.6 330.1 L1193.1 333.8 L1199.4 335.1 L1190.6 338.8 L1186.9 341.3"/><path d="M1219.4 300.0 L1228.2 300.5 L1238.2 305.0 L1245.7 312.5 L1253.2 317.5 L1255.7 318.8 L1261.9 313.8 L1268.2 305.0 L1269.5 298.8 L1264.5 290.0 L1267.0 283.8 L1270.7 280.0"/><path d="M1253.2 317.5 L1244.4 322.6 L1248.2 325.1 L1258.2 325.1 L1273.2 327.6 L1288.2 326.3 L1295.7 330.1 L1305.8 332.6 L1313.3 337.6 L1318.3 338.1 L1317.0 341.3 L1310.8 342.6 L1303.3 346.3 L1295.7 353.8 L1289.5 360.1 L1283.2 361.4 L1275.7 361.9 L1274.5 365.1 L1275.7 368.1"/><path d="M1280.7 355.1 L1283.2 353.8 L1293.2 353.3 L1295.7 353.8"/><path d="M1318.3 338.1 L1322.0 333.8 L1328.3 330.1 L1332.0 328.8 L1337.0 333.8 L1342.0 332.6 L1340.8 326.3 L1347.1 317.5 L1353.3 310.0 L1360.8 302.5 L1367.1 296.3 L1368.3 290.0 L1369.6 283.8 L1373.3 280.0"/><path d="M1367.1 296.3 L1378.3 298.0 L1388.4 299.5 L1398.4 297.0 L1409.6 298.0 L1414.6 294.5 L1415.9 300.0 L1423.4 305.0 L1428.4 310.0 L1433.4 320.1 L1435.9 327.6 L1443.4 326.3 L1444.7 320.1 L1443.4 313.8 L1449.7 308.8 L1452.2 311.3 L1451.7 317.5"/><path d="M1337.0 333.8 L1339.5 338.8 L1350.8 342.6 L1363.3 340.6 L1373.3 342.6 L1379.6 346.3 L1380.8 352.6 L1384.6 357.6 L1394.6 362.6 L1399.6 366.4 L1415.9 367.6 L1423.4 361.4 L1425.9 352.6 L1433.4 346.3 L1438.4 337.6 L1440.9 330.1 L1443.4 326.3"/><path d="M1399.6 366.4 L1397.1 372.6 L1400.9 377.6 L1400.9 385.1 L1395.9 395.1 L1390.9 405.2 L1388.4 412.7"/><path d="M1295.7 353.8 L1297.0 358.8 L1303.3 363.9 L1313.3 366.4 L1323.3 368.1 L1330.8 371.4 L1335.8 377.6 L1337.0 385.1 L1334.5 391.4 L1343.3 393.9 L1350.8 395.1 L1355.8 400.2 L1363.3 405.2 L1372.1 407.7 L1377.1 412.7 L1383.4 413.9 L1388.4 412.7 L1395.9 410.2 L1403.4 407.7 L1408.4 406.4 L1413.4 410.2 L1419.6 417.7 L1425.9 422.7 L1430.9 426.4 L1440.9 423.9 L1448.4 420.2 L1452.2 426.4"/><path d="M1452.2 400.2 L1449.7 402.7 L1450.9 410.2 L1449.7 415.2 L1452.2 420.2"/></g>
<g clip-path="url(#c1103_420)"><path d="M1315.8 420.0 L1303.3 421.3 L1294.5 422.5 L1290.7 426.3 L1282.0 430.0 L1280.7 433.8 L1288.2 436.3 L1295.7 437.5 L1300.7 442.5 L1297.0 447.5 L1288.2 451.3 L1287.0 456.3 L1293.2 462.6 L1300.7 467.6 L1308.3 472.6 L1315.8 476.3 L1324.5 480.1 L1330.8 483.8 L1332.8 487.6 L1328.3 492.6 L1322.0 493.3 L1317.0 488.8 L1312.0 488.8 L1310.8 495.1 L1307.0 497.6 L1303.3 495.1 L1302.0 491.3 L1295.7 490.8 L1287.0 496.3 L1278.2 503.9 L1268.2 512.6 L1258.2 520.1 L1245.7 525.1 L1238.2 530.1 L1235.7 537.6 L1235.7 542.7 L1238.7 547.7"/><path d="M1103.0 537.6 L1108.0 540.7 L1114.3 542.7 L1121.8 543.9 L1126.0 548.2"/><path d="M1415.9 420.0 L1422.1 425.0 L1428.4 423.8 L1438.4 420.0"/><path d="M1448.4 420.0 L1452.2 425.0"/></g>
</g>
<rect x="75.5" y="9.5" width="1378.0" height="538.8" fill="none" stroke="#000" stroke-width="1.1"/>
<g stroke="#000"><line x1="75.5" y1="548.3" x2="75.5" y2="558.9" stroke-width="3.0"/><line x1="226.9" y1="548.3" x2="226.9" y2="558.9" stroke-width="3.0"/><line x1="378.3" y1="548.3" x2="378.3" y2="558.9" stroke-width="3.0"/><line x1="529.7" y1="548.3" x2="529.7" y2="558.9" stroke-width="3.0"/><line x1="681.1" y1="548.3" x2="681.1" y2="558.9" stroke-width="3.0"/><line x1="832.5" y1="548.3" x2="832.5" y2="558.9" stroke-width="3.0"/><line x1="983.9" y1="548.3" x2="983.9" y2="558.9" stroke-width="3.0"/><line x1="1135.3" y1="548.3" x2="1135.3" y2="558.9" stroke-width="3.0"/><line x1="1286.7" y1="548.3" x2="1286.7" y2="558.9" stroke-width="3.0"/><line x1="1438.1" y1="548.3" x2="1438.1" y2="558.9" stroke-width="3.0"/><line x1="113.3" y1="548.3" x2="113.3" y2="552.3" stroke-width="1.0"/><line x1="151.2" y1="548.3" x2="151.2" y2="552.3" stroke-width="1.0"/><line x1="189.1" y1="548.3" x2="189.1" y2="552.3" stroke-width="1.0"/><line x1="264.8" y1="548.3" x2="264.8" y2="552.3" stroke-width="1.0"/><line x1="302.6" y1="548.3" x2="302.6" y2="552.3" stroke-width="1.0"/><line x1="340.4" y1="548.3" x2="340.4" y2="552.3" stroke-width="1.0"/><line x1="416.2" y1="548.3" x2="416.2" y2="552.3" stroke-width="1.0"/><line x1="454.0" y1="548.3" x2="454.0" y2="552.3" stroke-width="1.0"/><line x1="491.9" y1="548.3" x2="491.9" y2="552.3" stroke-width="1.0"/><line x1="567.5" y1="548.3" x2="567.5" y2="552.3" stroke-width="1.0"/><line x1="605.4" y1="548.3" x2="605.4" y2="552.3" stroke-width="1.0"/><line x1="643.2" y1="548.3" x2="643.2" y2="552.3" stroke-width="1.0"/><line x1="719.0" y1="548.3" x2="719.0" y2="552.3" stroke-width="1.0"/><line x1="756.8" y1="548.3" x2="756.8" y2="552.3" stroke-width="1.0"/><line x1="794.6" y1="548.3" x2="794.6" y2="552.3" stroke-width="1.0"/><line x1="870.4" y1="548.3" x2="870.4" y2="552.3" stroke-width="1.0"/><line x1="908.2" y1="548.3" x2="908.2" y2="552.3" stroke-width="1.0"/><line x1="946.1" y1="548.3" x2="946.1" y2="552.3" stroke-width="1.0"/><line x1="1021.8" y1="548.3" x2="1021.8" y2="552.3" stroke-width="1.0"/><line x1="1059.6" y1="548.3" x2="1059.6" y2="552.3" stroke-width="1.0"/><line x1="1097.5" y1="548.3" x2="1097.5" y2="552.3" stroke-width="1.0"/><line x1="1173.2" y1="548.3" x2="1173.2" y2="552.3" stroke-width="1.0"/><line x1="1211.0" y1="548.3" x2="1211.0" y2="552.3" stroke-width="1.0"/><line x1="1248.9" y1="548.3" x2="1248.9" y2="552.3" stroke-width="1.0"/><line x1="1324.5" y1="548.3" x2="1324.5" y2="552.3" stroke-width="1.0"/><line x1="1362.4" y1="548.3" x2="1362.4" y2="552.3" stroke-width="1.0"/><line x1="1400.2" y1="548.3" x2="1400.2" y2="552.3" stroke-width="1.0"/><line x1="64.6" y1="547.0" x2="75.5" y2="547.0" stroke-width="3.0"/><line x1="64.6" y1="471.3" x2="75.5" y2="471.3" stroke-width="3.0"/><line x1="64.6" y1="395.7" x2="75.5" y2="395.7" stroke-width="3.0"/><line x1="64.6" y1="320.1" x2="75.5" y2="320.1" stroke-width="3.0"/><line x1="64.6" y1="244.4" x2="75.5" y2="244.4" stroke-width="3.0"/><line x1="64.6" y1="168.8" x2="75.5" y2="168.8" stroke-width="3.0"/><line x1="64.6" y1="93.1" x2="75.5" y2="93.1" stroke-width="3.0"/><line x1="64.6" y1="17.5" x2="75.5" y2="17.5" stroke-width="3.0"/><line x1="71.5" y1="531.9" x2="75.5" y2="531.9" stroke-width="1.0"/><line x1="71.5" y1="516.7" x2="75.5" y2="516.7" stroke-width="1.0"/><line x1="71.5" y1="501.6" x2="75.5" y2="501.6" stroke-width="1.0"/><line x1="71.5" y1="486.5" x2="75.5" y2="486.5" stroke-width="1.0"/><line x1="71.5" y1="456.2" x2="75.5" y2="456.2" stroke-width="1.0"/><line x1="71.5" y1="441.1" x2="75.5" y2="441.1" stroke-width="1.0"/><line x1="71.5" y1="426.0" x2="75.5" y2="426.0" stroke-width="1.0"/><line x1="71.5" y1="410.8" x2="75.5" y2="410.8" stroke-width="1.0"/><line x1="71.5" y1="380.6" x2="75.5" y2="380.6" stroke-width="1.0"/><line x1="71.5" y1="365.4" x2="75.5" y2="365.4" stroke-width="1.0"/><line x1="71.5" y1="350.3" x2="75.5" y2="350.3" stroke-width="1.0"/><line x1="71.5" y1="335.2" x2="75.5" y2="335.2" stroke-width="1.0"/><line x1="71.5" y1="304.9" x2="75.5" y2="304.9" stroke-width="1.0"/><line x1="71.5" y1="289.8" x2="75.5" y2="289.8" stroke-width="1.0"/><line x1="71.5" y1="274.7" x2="75.5" y2="274.7" stroke-width="1.0"/><line x1="71.5" y1="259.5" x2="75.5" y2="259.5" stroke-width="1.0"/><line x1="71.5" y1="229.3" x2="75.5" y2="229.3" stroke-width="1.0"/><line x1="71.5" y1="214.2" x2="75.5" y2="214.2" stroke-width="1.0"/><line x1="71.5" y1="199.0" x2="75.5" y2="199.0" stroke-width="1.0"/><line x1="71.5" y1="183.9" x2="75.5" y2="183.9" stroke-width="1.0"/><line x1="71.5" y1="153.7" x2="75.5" y2="153.7" stroke-width="1.0"/><line x1="71.5" y1="138.5" x2="75.5" y2="138.5" stroke-width="1.0"/><line x1="71.5" y1="123.4" x2="75.5" y2="123.4" stroke-width="1.0"/><line x1="71.5" y1="108.3" x2="75.5" y2="108.3" stroke-width="1.0"/><line x1="71.5" y1="78.0" x2="75.5" y2="78.0" stroke-width="1.0"/><line x1="71.5" y1="62.9" x2="75.5" y2="62.9" stroke-width="1.0"/><line x1="71.5" y1="47.8" x2="75.5" y2="47.8" stroke-width="1.0"/><line x1="71.5" y1="32.6" x2="75.5" y2="32.6" stroke-width="1.0"/></g>
<g style="filter:grayscale(1)" font-family="Liberation Serif, serif" font-size="18.6" fill="#000" stroke="#000" stroke-width="0.18"><text x="75.2" y="577.9" text-anchor="middle" textLength="46.8" font-size="18.4" lengthAdjust="spacingAndGlyphs">68 °E</text><text x="226.6" y="577.9" text-anchor="middle" textLength="46.8" font-size="18.4" lengthAdjust="spacingAndGlyphs">70 °E</text><text x="378.0" y="577.9" text-anchor="middle" textLength="46.8" font-size="18.4" lengthAdjust="spacingAndGlyphs">72 °E</text><text x="529.4" y="577.9" text-anchor="middle" textLength="46.8" font-size="18.4" lengthAdjust="spacingAndGlyphs">74 °E</text><text x="680.8" y="577.9" text-anchor="middle" textLength="46.8" font-size="18.4" lengthAdjust="spacingAndGlyphs">76 °E</text><text x="832.2" y="577.9" text-anchor="middle" textLength="46.8" font-size="18.4" lengthAdjust="spacingAndGlyphs">78 °E</text><text x="983.6" y="577.9" text-anchor="middle" textLength="46.8" font-size="18.4" lengthAdjust="spacingAndGlyphs">80 °E</text><text x="1135.0" y="577.9" text-anchor="middle" textLength="46.8" font-size="18.4" lengthAdjust="spacingAndGlyphs">82 °E</text><text x="1286.4" y="577.9" text-anchor="middle" textLength="46.8" font-size="18.4" lengthAdjust="spacingAndGlyphs">84 °E</text><text x="1437.8" y="577.9" text-anchor="middle" textLength="46.8" font-size="18.4" lengthAdjust="spacingAndGlyphs">86 °E</text><text x="10.0" y="554.0" textLength="49.6" font-size="18.4" lengthAdjust="spacingAndGlyphs">25 °N</text><text x="10.0" y="478.3" textLength="49.6" font-size="18.4" lengthAdjust="spacingAndGlyphs">26 °N</text><text x="10.0" y="402.7" textLength="49.6" font-size="18.4" lengthAdjust="spacingAndGlyphs">27 °N</text><text x="10.0" y="327.1" textLength="49.6" font-size="18.4" lengthAdjust="spacingAndGlyphs">28 °N</text><text x="10.0" y="251.4" textLength="49.6" font-size="18.4" lengthAdjust="spacingAndGlyphs">29 °N</text><text x="10.0" y="175.8" textLength="49.6" font-size="18.4" lengthAdjust="spacingAndGlyphs">30 °N</text><text x="10.0" y="100.1" textLength="49.6" font-size="18.4" lengthAdjust="spacingAndGlyphs">31 °N</text><text x="10.0" y="24.5" textLength="49.6" font-size="18.4" lengthAdjust="spacingAndGlyphs">32 °N</text><text x="636.0" y="78.8" textLength="55.7" lengthAdjust="spacingAndGlyphs">Punjab</text><text x="744.4" y="110.1" textLength="97.5" lengthAdjust="spacingAndGlyphs">Chandigarh</text><text x="693.8" y="236.4" textLength="69.4" lengthAdjust="spacingAndGlyphs">Haryana</text><text x="771.0" y="262.7" textLength="39.9" lengthAdjust="spacingAndGlyphs">Delhi</text><text x="792.0" y="276.0" textLength="47.4" lengthAdjust="spacingAndGlyphs">Noida</text><text x="946.7" y="289.3" textLength="62.5" lengthAdjust="spacingAndGlyphs">Bareilly</text><text x="839.2" y="379.3" textLength="37.2" lengthAdjust="spacingAndGlyphs">Agra</text><text x="670.5" y="399.6" textLength="48.9" lengthAdjust="spacingAndGlyphs">Jaipur</text><text x="852.2" y="410.3" textLength="63.0" lengthAdjust="spacingAndGlyphs">Gwalior</text><text x="1061.0" y="404.6" textLength="72.8" lengthAdjust="spacingAndGlyphs">Lucknow</text><text x="1014.3" y="434.8" textLength="60.4" lengthAdjust="spacingAndGlyphs">Kanpur</text><text x="1244.2" y="410.1" textLength="89.0" lengthAdjust="spacingAndGlyphs">Gorakhpur</text><text x="1213.8" y="519.2" textLength="70.8" lengthAdjust="spacingAndGlyphs">Varanasi</text><text x="1378.1" y="498.2" textLength="45.2" lengthAdjust="spacingAndGlyphs">Patna</text></g>
<polygon points="631.50,75.10 632.91,79.45 637.49,79.45 633.79,82.14 635.20,86.50 631.50,83.81 627.80,86.50 629.21,82.14 625.51,79.45 630.09,79.45" fill="#000"/>
<polygon points="740.40,106.10 741.81,110.45 746.39,110.45 742.69,113.14 744.10,117.50 740.40,114.81 736.70,117.50 738.11,113.14 734.41,110.45 738.99,110.45" fill="#000"/>
<polygon points="688.30,232.60 689.71,236.95 694.29,236.95 690.59,239.64 692.00,244.00 688.30,241.31 684.60,244.00 686.01,239.64 682.31,236.95 686.89,236.95" fill="#000"/>
<polygon points="765.30,259.90 766.71,264.25 771.29,264.25 767.59,266.94 769.00,271.30 765.30,268.61 761.60,271.30 763.01,266.94 759.31,264.25 763.89,264.25" fill="#000"/>
<polygon points="786.60,273.00 788.01,277.35 792.59,277.35 788.89,280.04 790.30,284.40 786.60,281.71 782.90,284.40 784.31,280.04 780.61,277.35 785.19,277.35" fill="#000"/>
<polygon points="941.30,285.90 942.71,290.25 947.29,290.25 943.59,292.94 945.00,297.30 941.30,294.61 937.60,297.30 939.01,292.94 935.31,290.25 939.89,290.25" fill="#000"/>
<polygon points="833.20,375.90 834.61,380.25 839.19,380.25 835.49,382.94 836.90,387.30 833.20,384.61 829.50,387.30 830.91,382.94 827.21,380.25 831.79,380.25" fill="#000"/>
<polygon points="665.30,395.90 666.71,400.25 671.29,400.25 667.59,402.94 669.00,407.30 665.30,404.61 661.60,407.30 663.01,402.94 659.31,400.25 663.89,400.25" fill="#000"/>
<polygon points="846.20,406.70 847.61,411.05 852.19,411.05 848.49,413.74 849.90,418.10 846.20,415.41 842.50,418.10 843.91,413.74 840.21,411.05 844.79,411.05" fill="#000"/>
<polygon points="1055.70,400.70 1057.11,405.05 1061.69,405.05 1057.99,407.74 1059.40,412.10 1055.70,409.41 1052.00,412.10 1053.41,407.74 1049.71,405.05 1054.29,405.05" fill="#000"/>
<polygon points="1009.40,430.90 1010.81,435.25 1015.39,435.25 1011.69,437.94 1013.10,442.30 1009.40,439.61 1005.70,442.30 1007.11,437.94 1003.41,435.25 1007.99,435.25" fill="#000"/>
<polygon points="1239.40,406.70 1240.81,411.05 1245.39,411.05 1241.69,413.74 1243.10,418.10 1239.40,415.41 1235.70,418.10 1237.11,413.74 1233.41,411.05 1237.99,411.05" fill="#000"/>
<polygon points="1209.40,515.90 1210.81,520.25 1215.39,520.25 1211.69,522.94 1213.10,527.30 1209.40,524.61 1205.70,527.30 1207.11,522.94 1203.41,520.25 1207.99,520.25" fill="#000"/>
<polygon points="1373.30,496.00 1374.71,500.35 1379.29,500.35 1375.59,503.04 1377.00,507.40 1373.30,504.71 1369.60,507.40 1371.01,503.04 1367.31,500.35 1371.89,500.35" fill="#000"/>
<rect x="1178.6" y="12.5" width="266.8" height="35.8" rx="5.5" ry="5.5" fill="#fff" fill-opacity="0.8" stroke="#808080" stroke-width="1.3"/>
<text style="filter:grayscale(1)" x="1186.6" y="38.3" font-family="Liberation Serif, serif" font-size="24.6" textLength="252.6" lengthAdjust="spacingAndGlyphs" fill="#000">19-Jan-2026 12:00 IST</text>
</svg></body></html>
